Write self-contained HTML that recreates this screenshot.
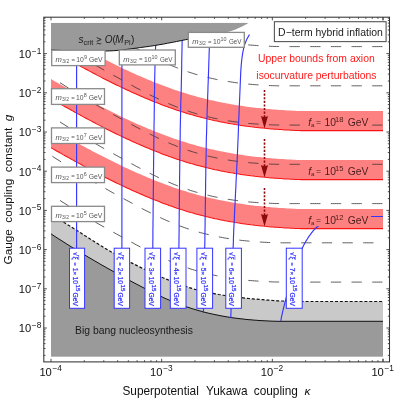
<!DOCTYPE html><html><head><meta charset="utf-8"><title>plot</title><style>html,body{margin:0;padding:0;background:#fff}svg{display:block;will-change:transform;opacity:0.999}text{font-family:"Liberation Sans",sans-serif}</style></head><body>
<svg width="395" height="399" viewBox="0 0 395 399">
<rect width="395" height="399" fill="#fff"/>
<defs><clipPath id="cp"><rect x="51.0" y="22.7" width="332.0" height="334.0"/></clipPath></defs>
<g clip-path="url(#cp)">
<path d="M51.0,214.5 L53.0,215.7 L55.0,217.0 L57.0,218.2 L59.0,219.4 L61.0,220.6 L63.0,221.9 L65.0,223.1 L67.0,224.4 L69.0,225.6 L71.0,226.8 L73.0,228.1 L75.0,229.3 L77.0,230.6 L79.0,231.8 L81.0,233.1 L83.0,234.4 L85.0,235.7 L87.0,236.9 L89.0,238.2 L91.0,239.5 L93.0,240.8 L95.0,242.1 L97.0,243.3 L99.0,244.6 L101.0,245.8 L103.0,247.0 L105.0,248.2 L107.0,249.4 L109.0,250.5 L111.0,251.7 L113.0,252.8 L115.0,253.9 L117.0,255.0 L119.0,256.2 L121.0,257.2 L123.0,258.3 L125.0,259.4 L127.0,260.5 L129.0,261.5 L131.0,262.6 L133.0,263.6 L135.0,264.6 L137.0,265.6 L139.0,266.6 L141.0,267.6 L143.0,268.6 L145.0,269.5 L147.0,270.5 L149.0,271.5 L151.0,272.4 L153.0,273.3 L155.0,274.3 L157.0,275.2 L159.0,276.0 L161.0,276.9 L163.0,277.8 L165.0,278.6 L167.0,279.4 L169.0,280.2 L171.0,281.0 L173.0,281.7 L175.0,282.5 L177.0,283.3 L179.0,284.0 L181.0,284.7 L183.0,285.4 L185.0,286.1 L187.0,286.8 L189.0,287.5 L191.0,288.1 L193.0,288.7 L195.0,289.3 L197.0,289.8 L199.0,290.4 L201.0,290.8 L203.0,291.3 L205.0,291.7 L207.0,292.2 L209.0,292.6 L211.0,293.0 L213.0,293.4 L215.0,293.8 L217.0,294.1 L219.0,294.5 L221.0,294.8 L223.0,295.2 L225.0,295.5 L227.0,295.8 L229.0,296.1 L231.0,296.3 L233.0,296.6 L235.0,296.9 L237.0,297.1 L239.0,297.4 L241.0,297.6 L243.0,297.8 L245.0,298.1 L247.0,298.3 L249.0,298.5 L251.0,298.7 L253.0,298.9 L255.0,299.1 L257.0,299.2 L259.0,299.4 L261.0,299.6 L263.0,299.7 L265.0,299.9 L267.0,300.1 L269.0,300.2 L271.0,300.4 L273.0,300.5 L275.0,300.6 L277.0,300.8 L279.0,300.9 L281.0,301.0 L283.0,301.0 L285.0,301.1 L287.0,301.2 L289.0,301.2 L291.0,301.2 L293.0,301.3 L295.0,301.3 L297.0,301.4 L299.0,301.4 L301.0,301.4 L303.0,301.5 L305.0,301.5 L307.0,301.5 L309.0,301.5 L311.0,301.5 L313.0,301.5 L315.0,301.5 L317.0,301.5 L319.0,301.5 L321.0,301.5 L323.0,301.5 L325.0,301.5 L327.0,301.5 L329.0,301.5 L331.0,301.5 L333.0,301.5 L335.0,301.5 L337.0,301.5 L339.0,301.5 L341.0,301.5 L343.0,301.5 L345.0,301.5 L347.0,301.5 L349.0,301.5 L351.0,301.5 L353.0,301.5 L355.0,301.5 L357.0,301.5 L359.0,301.5 L361.0,301.5 L363.0,301.5 L365.0,301.5 L367.0,301.5 L369.0,301.5 L371.0,301.5 L373.0,301.5 L375.0,301.5 L377.0,301.5 L379.0,301.5 L381.0,301.5 L383.0,301.5 L383.0,356.7 L51.0,356.7Z" fill="#c9c9c9"/>
<path d="M51.0,233.8 L53.0,235.2 L55.0,236.5 L57.0,237.8 L59.0,239.1 L61.0,240.3 L63.0,241.6 L65.0,242.9 L67.0,244.2 L69.0,245.4 L71.0,246.7 L73.0,247.9 L75.0,249.1 L77.0,250.4 L79.0,251.6 L81.0,252.8 L83.0,254.0 L85.0,255.2 L87.0,256.4 L89.0,257.6 L91.0,258.7 L93.0,259.9 L95.0,261.1 L97.0,262.2 L99.0,263.4 L101.0,264.6 L103.0,265.7 L105.0,266.8 L107.0,268.0 L109.0,269.1 L111.0,270.2 L113.0,271.3 L115.0,272.5 L117.0,273.6 L119.0,274.7 L121.0,275.8 L123.0,276.9 L125.0,277.9 L127.0,279.0 L129.0,280.1 L131.0,281.2 L133.0,282.3 L135.0,283.3 L137.0,284.4 L139.0,285.4 L141.0,286.5 L143.0,287.5 L145.0,288.6 L147.0,289.6 L149.0,290.6 L151.0,291.6 L153.0,292.6 L155.0,293.6 L157.0,294.6 L159.0,295.5 L161.0,296.4 L163.0,297.4 L165.0,298.3 L167.0,299.2 L169.0,300.0 L171.0,300.9 L173.0,301.7 L175.0,302.5 L177.0,303.3 L179.0,304.1 L181.0,304.9 L183.0,305.6 L185.0,306.3 L187.0,307.0 L189.0,307.6 L191.0,308.3 L193.0,308.9 L195.0,309.5 L197.0,310.1 L199.0,310.7 L201.0,311.2 L203.0,311.8 L205.0,312.3 L207.0,312.8 L209.0,313.3 L211.0,313.7 L213.0,314.2 L215.0,314.6 L217.0,315.0 L219.0,315.4 L221.0,315.8 L223.0,316.2 L225.0,316.5 L227.0,316.9 L229.0,317.2 L231.0,317.5 L233.0,317.8 L235.0,318.1 L237.0,318.3 L239.0,318.6 L241.0,318.8 L243.0,319.0 L245.0,319.3 L247.0,319.5 L249.0,319.7 L251.0,319.8 L253.0,320.0 L255.0,320.2 L257.0,320.3 L259.0,320.5 L261.0,320.6 L263.0,320.7 L265.0,320.8 L267.0,320.9 L269.0,321.0 L271.0,321.1 L273.0,321.2 L275.0,321.2 L277.0,321.3 L279.0,321.3 L281.0,321.3 L283.0,321.3 L285.0,321.3 L287.0,321.3 L289.0,321.3 L291.0,321.3 L293.0,321.3 L295.0,321.3 L297.0,321.3 L299.0,321.3 L301.0,321.3 L303.0,321.3 L305.0,321.3 L307.0,321.3 L309.0,321.3 L311.0,321.3 L313.0,321.3 L315.0,321.3 L317.0,321.3 L319.0,321.3 L321.0,321.3 L323.0,321.3 L325.0,321.3 L327.0,321.3 L329.0,321.3 L331.0,321.3 L333.0,321.3 L335.0,321.3 L337.0,321.3 L339.0,321.3 L341.0,321.3 L343.0,321.3 L345.0,321.3 L347.0,321.3 L349.0,321.3 L351.0,321.3 L353.0,321.3 L355.0,321.3 L357.0,321.3 L359.0,321.3 L361.0,321.3 L363.0,321.3 L365.0,321.3 L367.0,321.3 L369.0,321.3 L371.0,321.3 L373.0,321.3 L375.0,321.3 L377.0,321.3 L379.0,321.3 L381.0,321.3 L383.0,321.3 L383.0,356.7 L51.0,356.7Z" fill="#9a9a9a"/>
<path d="M51.0,214.5 L53.0,215.7 L55.0,217.0 L57.0,218.2 L59.0,219.4 L61.0,220.6 L63.0,221.9 L65.0,223.1 L67.0,224.4 L69.0,225.6 L71.0,226.8 L73.0,228.1 L75.0,229.3 L77.0,230.6 L79.0,231.8 L81.0,233.1 L83.0,234.4 L85.0,235.7 L87.0,236.9 L89.0,238.2 L91.0,239.5 L93.0,240.8 L95.0,242.1 L97.0,243.3 L99.0,244.6 L101.0,245.8 L103.0,247.0 L105.0,248.2 L107.0,249.4 L109.0,250.5 L111.0,251.7 L113.0,252.8 L115.0,253.9 L117.0,255.0 L119.0,256.2 L121.0,257.2 L123.0,258.3 L125.0,259.4 L127.0,260.5 L129.0,261.5 L131.0,262.6 L133.0,263.6 L135.0,264.6 L137.0,265.6 L139.0,266.6 L141.0,267.6 L143.0,268.6 L145.0,269.5 L147.0,270.5 L149.0,271.5 L151.0,272.4 L153.0,273.3 L155.0,274.3 L157.0,275.2 L159.0,276.0 L161.0,276.9 L163.0,277.8 L165.0,278.6 L167.0,279.4 L169.0,280.2 L171.0,281.0 L173.0,281.7 L175.0,282.5 L177.0,283.3 L179.0,284.0 L181.0,284.7 L183.0,285.4 L185.0,286.1 L187.0,286.8 L189.0,287.5 L191.0,288.1 L193.0,288.7 L195.0,289.3 L197.0,289.8 L199.0,290.4 L201.0,290.8 L203.0,291.3 L205.0,291.7 L207.0,292.2 L209.0,292.6 L211.0,293.0 L213.0,293.4 L215.0,293.8 L217.0,294.1 L219.0,294.5 L221.0,294.8 L223.0,295.2 L225.0,295.5 L227.0,295.8 L229.0,296.1 L231.0,296.3 L233.0,296.6 L235.0,296.9 L237.0,297.1 L239.0,297.4 L241.0,297.6 L243.0,297.8 L245.0,298.1 L247.0,298.3 L249.0,298.5 L251.0,298.7 L253.0,298.9 L255.0,299.1 L257.0,299.2 L259.0,299.4 L261.0,299.6 L263.0,299.7 L265.0,299.9 L267.0,300.1 L269.0,300.2 L271.0,300.4 L273.0,300.5 L275.0,300.6 L277.0,300.8 L279.0,300.9 L281.0,301.0 L283.0,301.0 L285.0,301.1 L287.0,301.2 L289.0,301.2 L291.0,301.2 L293.0,301.3 L295.0,301.3 L297.0,301.4 L299.0,301.4 L301.0,301.4 L303.0,301.5 L305.0,301.5 L307.0,301.5 L309.0,301.5 L311.0,301.5 L313.0,301.5 L315.0,301.5 L317.0,301.5 L319.0,301.5 L321.0,301.5 L323.0,301.5 L325.0,301.5 L327.0,301.5 L329.0,301.5 L331.0,301.5 L333.0,301.5 L335.0,301.5 L337.0,301.5 L339.0,301.5 L341.0,301.5 L343.0,301.5 L345.0,301.5 L347.0,301.5 L349.0,301.5 L351.0,301.5 L353.0,301.5 L355.0,301.5 L357.0,301.5 L359.0,301.5 L361.0,301.5 L363.0,301.5 L365.0,301.5 L367.0,301.5 L369.0,301.5 L371.0,301.5 L373.0,301.5 L375.0,301.5 L377.0,301.5 L379.0,301.5 L381.0,301.5 L383.0,301.5" fill="none" stroke="#111" stroke-width="1.2" stroke-dasharray="3 1.9"/>
<path d="M51.0,233.8 L53.0,235.2 L55.0,236.5 L57.0,237.8 L59.0,239.1 L61.0,240.3 L63.0,241.6 L65.0,242.9 L67.0,244.2 L69.0,245.4 L71.0,246.7 L73.0,247.9 L75.0,249.1 L77.0,250.4 L79.0,251.6 L81.0,252.8 L83.0,254.0 L85.0,255.2 L87.0,256.4 L89.0,257.6 L91.0,258.7 L93.0,259.9 L95.0,261.1 L97.0,262.2 L99.0,263.4 L101.0,264.6 L103.0,265.7 L105.0,266.8 L107.0,268.0 L109.0,269.1 L111.0,270.2 L113.0,271.3 L115.0,272.5 L117.0,273.6 L119.0,274.7 L121.0,275.8 L123.0,276.9 L125.0,277.9 L127.0,279.0 L129.0,280.1 L131.0,281.2 L133.0,282.3 L135.0,283.3 L137.0,284.4 L139.0,285.4 L141.0,286.5 L143.0,287.5 L145.0,288.6 L147.0,289.6 L149.0,290.6 L151.0,291.6 L153.0,292.6 L155.0,293.6 L157.0,294.6 L159.0,295.5 L161.0,296.4 L163.0,297.4 L165.0,298.3 L167.0,299.2 L169.0,300.0 L171.0,300.9 L173.0,301.7 L175.0,302.5 L177.0,303.3 L179.0,304.1 L181.0,304.9 L183.0,305.6 L185.0,306.3 L187.0,307.0 L189.0,307.6 L191.0,308.3 L193.0,308.9 L195.0,309.5 L197.0,310.1 L199.0,310.7 L201.0,311.2 L203.0,311.8 L205.0,312.3 L207.0,312.8 L209.0,313.3 L211.0,313.7 L213.0,314.2 L215.0,314.6 L217.0,315.0 L219.0,315.4 L221.0,315.8 L223.0,316.2 L225.0,316.5 L227.0,316.9 L229.0,317.2 L231.0,317.5 L233.0,317.8 L235.0,318.1 L237.0,318.3 L239.0,318.6 L241.0,318.8 L243.0,319.0 L245.0,319.3 L247.0,319.5 L249.0,319.7 L251.0,319.8 L253.0,320.0 L255.0,320.2 L257.0,320.3 L259.0,320.5 L261.0,320.6 L263.0,320.7 L265.0,320.8 L267.0,320.9 L269.0,321.0 L271.0,321.1 L273.0,321.2 L275.0,321.2 L277.0,321.3 L279.0,321.3 L281.0,321.3 L283.0,321.3 L285.0,321.3 L287.0,321.3 L289.0,321.3 L291.0,321.3 L293.0,321.3 L295.0,321.3 L297.0,321.3 L299.0,321.3 L301.0,321.3 L303.0,321.3 L305.0,321.3 L307.0,321.3 L309.0,321.3 L311.0,321.3 L313.0,321.3 L315.0,321.3 L317.0,321.3 L319.0,321.3 L321.0,321.3 L323.0,321.3 L325.0,321.3 L327.0,321.3 L329.0,321.3 L331.0,321.3 L333.0,321.3 L335.0,321.3 L337.0,321.3 L339.0,321.3 L341.0,321.3 L343.0,321.3 L345.0,321.3 L347.0,321.3 L349.0,321.3 L351.0,321.3 L353.0,321.3 L355.0,321.3 L357.0,321.3 L359.0,321.3 L361.0,321.3 L363.0,321.3 L365.0,321.3 L367.0,321.3 L369.0,321.3 L371.0,321.3 L373.0,321.3 L375.0,321.3 L377.0,321.3 L379.0,321.3 L381.0,321.3 L383.0,321.3" fill="none" stroke="#111" stroke-width="1"/>
<path d="M51.0,30.1 L53.0,31.3 L55.0,32.4 L57.0,33.6 L59.0,34.7 L61.0,35.8 L63.0,37.0 L65.0,38.1 L67.0,39.2 L69.0,40.3 L71.0,41.4 L73.0,42.5 L75.0,43.7 L77.0,44.8 L79.0,45.8 L81.0,46.9 L83.0,48.0 L85.0,49.1 L87.0,50.2 L89.0,51.3 L91.0,52.3 L93.0,53.4 L95.0,54.4 L97.0,55.5 L99.0,56.5 L101.0,57.5 L103.0,58.6 L105.0,59.6 L107.0,60.6 L109.0,61.6 L111.0,62.6 L113.0,63.6 L115.0,64.6 L117.0,65.6 L119.0,66.5 L121.0,67.5 L123.0,68.4 L125.0,69.4 L127.0,70.3 L129.0,71.2 L131.0,72.2 L133.0,73.1 L135.0,74.0 L137.0,74.9 L139.0,75.7 L141.0,76.6 L143.0,77.5 L145.0,78.3 L147.0,79.2 L149.0,80.0 L151.0,80.8 L153.0,81.7 L155.0,82.5 L157.0,83.2 L159.0,84.0 L161.0,84.8 L163.0,85.6 L165.0,86.3 L167.0,87.0 L169.0,87.8 L171.0,88.5 L173.0,89.2 L175.0,89.9 L177.0,90.6 L179.0,91.2 L181.0,91.9 L183.0,92.5 L185.0,93.1 L187.0,93.8 L189.0,94.4 L191.0,95.0 L193.0,95.5 L195.0,96.1 L197.0,96.7 L199.0,97.2 L201.0,97.7 L203.0,98.2 L205.0,98.7 L207.0,99.2 L209.0,99.7 L211.0,100.2 L213.0,100.6 L215.0,101.1 L217.0,101.5 L219.0,101.9 L221.0,102.3 L223.0,102.7 L225.0,103.1 L227.0,103.5 L229.0,103.8 L231.0,104.2 L233.0,104.5 L235.0,104.9 L237.0,105.2 L239.0,105.5 L241.0,105.8 L243.0,106.1 L245.0,106.4 L247.0,106.7 L249.0,106.9 L251.0,107.2 L253.0,107.4 L255.0,107.7 L257.0,107.9 L259.0,108.1 L261.0,108.3 L263.0,108.5 L265.0,108.7 L267.0,108.9 L269.0,109.1 L271.0,109.3 L273.0,109.4 L275.0,109.6 L277.0,109.7 L279.0,109.9 L281.0,110.0 L283.0,110.1 L285.0,110.3 L287.0,110.4 L289.0,110.5 L291.0,110.6 L293.0,110.7 L295.0,110.8 L297.0,110.9 L299.0,110.9 L301.0,111.0 L303.0,111.0 L305.0,111.0 L307.0,111.0 L309.0,111.0 L311.0,111.0 L313.0,111.0 L315.0,111.0 L317.0,111.0 L319.0,111.0 L321.0,111.0 L323.0,111.0 L325.0,111.0 L327.0,111.0 L329.0,111.0 L331.0,111.0 L333.0,111.0 L335.0,111.0 L337.0,111.0 L339.0,111.0 L341.0,111.0 L343.0,111.0 L345.0,111.0 L347.0,111.0 L349.0,111.0 L351.0,111.0 L353.0,111.0 L355.0,111.0 L357.0,111.0 L359.0,111.0 L361.0,111.0 L363.0,111.0 L365.0,111.0 L367.0,111.0 L369.0,111.0 L371.0,111.0 L373.0,111.0 L375.0,111.0 L377.0,111.0 L379.0,111.0 L381.0,111.0 L383.0,111.0 L383.0,130.6 L381.0,130.6 L379.0,130.6 L377.0,130.6 L375.0,130.6 L373.0,130.6 L371.0,130.6 L369.0,130.6 L367.0,130.6 L365.0,130.6 L363.0,130.6 L361.0,130.6 L359.0,130.6 L357.0,130.6 L355.0,130.6 L353.0,130.6 L351.0,130.6 L349.0,130.6 L347.0,130.6 L345.0,130.6 L343.0,130.6 L341.0,130.6 L339.0,130.6 L337.0,130.6 L335.0,130.6 L333.0,130.6 L331.0,130.6 L329.0,130.6 L327.0,130.6 L325.0,130.6 L323.0,130.6 L321.0,130.6 L319.0,130.6 L317.0,130.6 L315.0,130.6 L313.0,130.6 L311.0,130.6 L309.0,130.6 L307.0,130.6 L305.0,130.6 L303.0,130.6 L301.0,130.6 L299.0,130.5 L297.0,130.5 L295.0,130.4 L293.0,130.3 L291.0,130.2 L289.0,130.1 L287.0,130.0 L285.0,129.9 L283.0,129.7 L281.0,129.6 L279.0,129.5 L277.0,129.3 L275.0,129.2 L273.0,129.0 L271.0,128.9 L269.0,128.7 L267.0,128.5 L265.0,128.3 L263.0,128.1 L261.0,127.9 L259.0,127.7 L257.0,127.5 L255.0,127.3 L253.0,127.0 L251.0,126.8 L249.0,126.5 L247.0,126.3 L245.0,126.0 L243.0,125.7 L241.0,125.4 L239.0,125.1 L237.0,124.8 L235.0,124.5 L233.0,124.1 L231.0,123.8 L229.0,123.4 L227.0,123.1 L225.0,122.7 L223.0,122.3 L221.0,121.9 L219.0,121.5 L217.0,121.1 L215.0,120.7 L213.0,120.2 L211.0,119.8 L209.0,119.3 L207.0,118.8 L205.0,118.3 L203.0,117.8 L201.0,117.3 L199.0,116.8 L197.0,116.3 L195.0,115.7 L193.0,115.1 L191.0,114.6 L189.0,114.0 L187.0,113.4 L185.0,112.7 L183.0,112.1 L181.0,111.5 L179.0,110.8 L177.0,110.2 L175.0,109.5 L173.0,108.8 L171.0,108.1 L169.0,107.4 L167.0,106.6 L165.0,105.9 L163.0,105.2 L161.0,104.4 L159.0,103.6 L157.0,102.8 L155.0,102.1 L153.0,101.3 L151.0,100.4 L149.0,99.6 L147.0,98.8 L145.0,97.9 L143.0,97.1 L141.0,96.2 L139.0,95.3 L137.0,94.5 L135.0,93.6 L133.0,92.7 L131.0,91.8 L129.0,90.8 L127.0,89.9 L125.0,89.0 L123.0,88.0 L121.0,87.1 L119.0,86.1 L117.0,85.2 L115.0,84.2 L113.0,83.2 L111.0,82.2 L109.0,81.2 L107.0,80.2 L105.0,79.2 L103.0,78.2 L101.0,77.1 L99.0,76.1 L97.0,75.1 L95.0,74.0 L93.0,73.0 L91.0,71.9 L89.0,70.9 L87.0,69.8 L85.0,68.7 L83.0,67.6 L81.0,66.5 L79.0,65.4 L77.0,64.4 L75.0,63.3 L73.0,62.1 L71.0,61.0 L69.0,59.9 L67.0,58.8 L65.0,57.7 L63.0,56.6 L61.0,55.4 L59.0,54.3 L57.0,53.2 L55.0,52.0 L53.0,50.9 L51.0,49.7Z" fill="#fd8181"/>
<path d="M51.0,49.7 L53.0,50.9 L55.0,52.0 L57.0,53.2 L59.0,54.3 L61.0,55.4 L63.0,56.6 L65.0,57.7 L67.0,58.8 L69.0,59.9 L71.0,61.0 L73.0,62.1 L75.0,63.3 L77.0,64.4 L79.0,65.4 L81.0,66.5 L83.0,67.6 L85.0,68.7 L87.0,69.8 L89.0,70.9 L91.0,71.9 L93.0,73.0 L95.0,74.0 L97.0,75.1 L99.0,76.1 L101.0,77.1 L103.0,78.2 L105.0,79.2 L107.0,80.2 L109.0,81.2 L111.0,82.2 L113.0,83.2 L115.0,84.2 L117.0,85.2 L119.0,86.1 L121.0,87.1 L123.0,88.0 L125.0,89.0 L127.0,89.9 L129.0,90.8 L131.0,91.8 L133.0,92.7 L135.0,93.6 L137.0,94.5 L139.0,95.3 L141.0,96.2 L143.0,97.1 L145.0,97.9 L147.0,98.8 L149.0,99.6 L151.0,100.4 L153.0,101.3 L155.0,102.1 L157.0,102.8 L159.0,103.6 L161.0,104.4 L163.0,105.2 L165.0,105.9 L167.0,106.6 L169.0,107.4 L171.0,108.1 L173.0,108.8 L175.0,109.5 L177.0,110.2 L179.0,110.8 L181.0,111.5 L183.0,112.1 L185.0,112.7 L187.0,113.4 L189.0,114.0 L191.0,114.6 L193.0,115.1 L195.0,115.7 L197.0,116.3 L199.0,116.8 L201.0,117.3 L203.0,117.8 L205.0,118.3 L207.0,118.8 L209.0,119.3 L211.0,119.8 L213.0,120.2 L215.0,120.7 L217.0,121.1 L219.0,121.5 L221.0,121.9 L223.0,122.3 L225.0,122.7 L227.0,123.1 L229.0,123.4 L231.0,123.8 L233.0,124.1 L235.0,124.5 L237.0,124.8 L239.0,125.1 L241.0,125.4 L243.0,125.7 L245.0,126.0 L247.0,126.3 L249.0,126.5 L251.0,126.8 L253.0,127.0 L255.0,127.3 L257.0,127.5 L259.0,127.7 L261.0,127.9 L263.0,128.1 L265.0,128.3 L267.0,128.5 L269.0,128.7 L271.0,128.9 L273.0,129.0 L275.0,129.2 L277.0,129.3 L279.0,129.5 L281.0,129.6 L283.0,129.7 L285.0,129.9 L287.0,130.0 L289.0,130.1 L291.0,130.2 L293.0,130.3 L295.0,130.4 L297.0,130.5 L299.0,130.5 L301.0,130.6 L303.0,130.6 L305.0,130.6 L307.0,130.6 L309.0,130.6 L311.0,130.6 L313.0,130.6 L315.0,130.6 L317.0,130.6 L319.0,130.6 L321.0,130.6 L323.0,130.6 L325.0,130.6 L327.0,130.6 L329.0,130.6 L331.0,130.6 L333.0,130.6 L335.0,130.6 L337.0,130.6 L339.0,130.6 L341.0,130.6 L343.0,130.6 L345.0,130.6 L347.0,130.6 L349.0,130.6 L351.0,130.6 L353.0,130.6 L355.0,130.6 L357.0,130.6 L359.0,130.6 L361.0,130.6 L363.0,130.6 L365.0,130.6 L367.0,130.6 L369.0,130.6 L371.0,130.6 L373.0,130.6 L375.0,130.6 L377.0,130.6 L379.0,130.6 L381.0,130.6 L383.0,130.6" fill="none" stroke="#f81212" stroke-width="1.05"/>
<path d="M51.0,79.1 L53.0,80.3 L55.0,81.4 L57.0,82.6 L59.0,83.7 L61.0,84.8 L63.0,86.0 L65.0,87.1 L67.0,88.2 L69.0,89.3 L71.0,90.4 L73.0,91.5 L75.0,92.7 L77.0,93.8 L79.0,94.8 L81.0,95.9 L83.0,97.0 L85.0,98.1 L87.0,99.2 L89.0,100.3 L91.0,101.3 L93.0,102.4 L95.0,103.4 L97.0,104.5 L99.0,105.5 L101.0,106.5 L103.0,107.6 L105.0,108.6 L107.0,109.6 L109.0,110.6 L111.0,111.6 L113.0,112.6 L115.0,113.6 L117.0,114.6 L119.0,115.5 L121.0,116.5 L123.0,117.4 L125.0,118.4 L127.0,119.3 L129.0,120.2 L131.0,121.2 L133.0,122.1 L135.0,123.0 L137.0,123.9 L139.0,124.7 L141.0,125.6 L143.0,126.5 L145.0,127.3 L147.0,128.2 L149.0,129.0 L151.0,129.8 L153.0,130.7 L155.0,131.5 L157.0,132.2 L159.0,133.0 L161.0,133.8 L163.0,134.6 L165.0,135.3 L167.0,136.0 L169.0,136.8 L171.0,137.5 L173.0,138.2 L175.0,138.9 L177.0,139.6 L179.0,140.2 L181.0,140.9 L183.0,141.5 L185.0,142.1 L187.0,142.8 L189.0,143.4 L191.0,144.0 L193.0,144.5 L195.0,145.1 L197.0,145.7 L199.0,146.2 L201.0,146.7 L203.0,147.2 L205.0,147.7 L207.0,148.2 L209.0,148.7 L211.0,149.2 L213.0,149.6 L215.0,150.1 L217.0,150.5 L219.0,150.9 L221.0,151.3 L223.0,151.7 L225.0,152.1 L227.0,152.5 L229.0,152.8 L231.0,153.2 L233.0,153.5 L235.0,153.9 L237.0,154.2 L239.0,154.5 L241.0,154.8 L243.0,155.1 L245.0,155.4 L247.0,155.7 L249.0,155.9 L251.0,156.2 L253.0,156.4 L255.0,156.7 L257.0,156.9 L259.0,157.1 L261.0,157.3 L263.0,157.5 L265.0,157.7 L267.0,157.9 L269.0,158.1 L271.0,158.3 L273.0,158.4 L275.0,158.6 L277.0,158.7 L279.0,158.9 L281.0,159.0 L283.0,159.1 L285.0,159.3 L287.0,159.4 L289.0,159.5 L291.0,159.6 L293.0,159.7 L295.0,159.8 L297.0,159.9 L299.0,159.9 L301.0,160.0 L303.0,160.0 L305.0,160.0 L307.0,160.0 L309.0,160.0 L311.0,160.0 L313.0,160.0 L315.0,160.0 L317.0,160.0 L319.0,160.0 L321.0,160.0 L323.0,160.0 L325.0,160.0 L327.0,160.0 L329.0,160.0 L331.0,160.0 L333.0,160.0 L335.0,160.0 L337.0,160.0 L339.0,160.0 L341.0,160.0 L343.0,160.0 L345.0,160.0 L347.0,160.0 L349.0,160.0 L351.0,160.0 L353.0,160.0 L355.0,160.0 L357.0,160.0 L359.0,160.0 L361.0,160.0 L363.0,160.0 L365.0,160.0 L367.0,160.0 L369.0,160.0 L371.0,160.0 L373.0,160.0 L375.0,160.0 L377.0,160.0 L379.0,160.0 L381.0,160.0 L383.0,160.0 L383.0,179.6 L381.0,179.6 L379.0,179.6 L377.0,179.6 L375.0,179.6 L373.0,179.6 L371.0,179.6 L369.0,179.6 L367.0,179.6 L365.0,179.6 L363.0,179.6 L361.0,179.6 L359.0,179.6 L357.0,179.6 L355.0,179.6 L353.0,179.6 L351.0,179.6 L349.0,179.6 L347.0,179.6 L345.0,179.6 L343.0,179.6 L341.0,179.6 L339.0,179.6 L337.0,179.6 L335.0,179.6 L333.0,179.6 L331.0,179.6 L329.0,179.6 L327.0,179.6 L325.0,179.6 L323.0,179.6 L321.0,179.6 L319.0,179.6 L317.0,179.6 L315.0,179.6 L313.0,179.6 L311.0,179.6 L309.0,179.6 L307.0,179.6 L305.0,179.6 L303.0,179.6 L301.0,179.6 L299.0,179.5 L297.0,179.5 L295.0,179.4 L293.0,179.3 L291.0,179.2 L289.0,179.1 L287.0,179.0 L285.0,178.9 L283.0,178.7 L281.0,178.6 L279.0,178.5 L277.0,178.3 L275.0,178.2 L273.0,178.0 L271.0,177.9 L269.0,177.7 L267.0,177.5 L265.0,177.3 L263.0,177.1 L261.0,176.9 L259.0,176.7 L257.0,176.5 L255.0,176.3 L253.0,176.0 L251.0,175.8 L249.0,175.5 L247.0,175.3 L245.0,175.0 L243.0,174.7 L241.0,174.4 L239.0,174.1 L237.0,173.8 L235.0,173.5 L233.0,173.1 L231.0,172.8 L229.0,172.4 L227.0,172.1 L225.0,171.7 L223.0,171.3 L221.0,170.9 L219.0,170.5 L217.0,170.1 L215.0,169.7 L213.0,169.2 L211.0,168.8 L209.0,168.3 L207.0,167.8 L205.0,167.3 L203.0,166.8 L201.0,166.3 L199.0,165.8 L197.0,165.3 L195.0,164.7 L193.0,164.1 L191.0,163.6 L189.0,163.0 L187.0,162.4 L185.0,161.7 L183.0,161.1 L181.0,160.5 L179.0,159.8 L177.0,159.2 L175.0,158.5 L173.0,157.8 L171.0,157.1 L169.0,156.4 L167.0,155.6 L165.0,154.9 L163.0,154.2 L161.0,153.4 L159.0,152.6 L157.0,151.8 L155.0,151.1 L153.0,150.3 L151.0,149.4 L149.0,148.6 L147.0,147.8 L145.0,146.9 L143.0,146.1 L141.0,145.2 L139.0,144.3 L137.0,143.5 L135.0,142.6 L133.0,141.7 L131.0,140.8 L129.0,139.8 L127.0,138.9 L125.0,138.0 L123.0,137.0 L121.0,136.1 L119.0,135.1 L117.0,134.2 L115.0,133.2 L113.0,132.2 L111.0,131.2 L109.0,130.2 L107.0,129.2 L105.0,128.2 L103.0,127.2 L101.0,126.1 L99.0,125.1 L97.0,124.1 L95.0,123.0 L93.0,122.0 L91.0,120.9 L89.0,119.9 L87.0,118.8 L85.0,117.7 L83.0,116.6 L81.0,115.5 L79.0,114.4 L77.0,113.4 L75.0,112.3 L73.0,111.1 L71.0,110.0 L69.0,108.9 L67.0,107.8 L65.0,106.7 L63.0,105.6 L61.0,104.4 L59.0,103.3 L57.0,102.2 L55.0,101.0 L53.0,99.9 L51.0,98.7Z" fill="#fd8181"/>
<path d="M51.0,98.7 L53.0,99.9 L55.0,101.0 L57.0,102.2 L59.0,103.3 L61.0,104.4 L63.0,105.6 L65.0,106.7 L67.0,107.8 L69.0,108.9 L71.0,110.0 L73.0,111.1 L75.0,112.3 L77.0,113.4 L79.0,114.4 L81.0,115.5 L83.0,116.6 L85.0,117.7 L87.0,118.8 L89.0,119.9 L91.0,120.9 L93.0,122.0 L95.0,123.0 L97.0,124.1 L99.0,125.1 L101.0,126.1 L103.0,127.2 L105.0,128.2 L107.0,129.2 L109.0,130.2 L111.0,131.2 L113.0,132.2 L115.0,133.2 L117.0,134.2 L119.0,135.1 L121.0,136.1 L123.0,137.0 L125.0,138.0 L127.0,138.9 L129.0,139.8 L131.0,140.8 L133.0,141.7 L135.0,142.6 L137.0,143.5 L139.0,144.3 L141.0,145.2 L143.0,146.1 L145.0,146.9 L147.0,147.8 L149.0,148.6 L151.0,149.4 L153.0,150.3 L155.0,151.1 L157.0,151.8 L159.0,152.6 L161.0,153.4 L163.0,154.2 L165.0,154.9 L167.0,155.6 L169.0,156.4 L171.0,157.1 L173.0,157.8 L175.0,158.5 L177.0,159.2 L179.0,159.8 L181.0,160.5 L183.0,161.1 L185.0,161.7 L187.0,162.4 L189.0,163.0 L191.0,163.6 L193.0,164.1 L195.0,164.7 L197.0,165.3 L199.0,165.8 L201.0,166.3 L203.0,166.8 L205.0,167.3 L207.0,167.8 L209.0,168.3 L211.0,168.8 L213.0,169.2 L215.0,169.7 L217.0,170.1 L219.0,170.5 L221.0,170.9 L223.0,171.3 L225.0,171.7 L227.0,172.1 L229.0,172.4 L231.0,172.8 L233.0,173.1 L235.0,173.5 L237.0,173.8 L239.0,174.1 L241.0,174.4 L243.0,174.7 L245.0,175.0 L247.0,175.3 L249.0,175.5 L251.0,175.8 L253.0,176.0 L255.0,176.3 L257.0,176.5 L259.0,176.7 L261.0,176.9 L263.0,177.1 L265.0,177.3 L267.0,177.5 L269.0,177.7 L271.0,177.9 L273.0,178.0 L275.0,178.2 L277.0,178.3 L279.0,178.5 L281.0,178.6 L283.0,178.7 L285.0,178.9 L287.0,179.0 L289.0,179.1 L291.0,179.2 L293.0,179.3 L295.0,179.4 L297.0,179.5 L299.0,179.5 L301.0,179.6 L303.0,179.6 L305.0,179.6 L307.0,179.6 L309.0,179.6 L311.0,179.6 L313.0,179.6 L315.0,179.6 L317.0,179.6 L319.0,179.6 L321.0,179.6 L323.0,179.6 L325.0,179.6 L327.0,179.6 L329.0,179.6 L331.0,179.6 L333.0,179.6 L335.0,179.6 L337.0,179.6 L339.0,179.6 L341.0,179.6 L343.0,179.6 L345.0,179.6 L347.0,179.6 L349.0,179.6 L351.0,179.6 L353.0,179.6 L355.0,179.6 L357.0,179.6 L359.0,179.6 L361.0,179.6 L363.0,179.6 L365.0,179.6 L367.0,179.6 L369.0,179.6 L371.0,179.6 L373.0,179.6 L375.0,179.6 L377.0,179.6 L379.0,179.6 L381.0,179.6 L383.0,179.6" fill="none" stroke="#f81212" stroke-width="1.05"/>
<path d="M51.0,128.1 L53.0,129.3 L55.0,130.4 L57.0,131.6 L59.0,132.7 L61.0,133.8 L63.0,135.0 L65.0,136.1 L67.0,137.2 L69.0,138.3 L71.0,139.4 L73.0,140.5 L75.0,141.7 L77.0,142.8 L79.0,143.8 L81.0,144.9 L83.0,146.0 L85.0,147.1 L87.0,148.2 L89.0,149.3 L91.0,150.3 L93.0,151.4 L95.0,152.4 L97.0,153.5 L99.0,154.5 L101.0,155.5 L103.0,156.6 L105.0,157.6 L107.0,158.6 L109.0,159.6 L111.0,160.6 L113.0,161.6 L115.0,162.6 L117.0,163.6 L119.0,164.5 L121.0,165.5 L123.0,166.4 L125.0,167.4 L127.0,168.3 L129.0,169.2 L131.0,170.2 L133.0,171.1 L135.0,172.0 L137.0,172.9 L139.0,173.7 L141.0,174.6 L143.0,175.5 L145.0,176.3 L147.0,177.2 L149.0,178.0 L151.0,178.8 L153.0,179.7 L155.0,180.5 L157.0,181.2 L159.0,182.0 L161.0,182.8 L163.0,183.6 L165.0,184.3 L167.0,185.0 L169.0,185.8 L171.0,186.5 L173.0,187.2 L175.0,187.9 L177.0,188.6 L179.0,189.2 L181.0,189.9 L183.0,190.5 L185.0,191.1 L187.0,191.8 L189.0,192.4 L191.0,193.0 L193.0,193.5 L195.0,194.1 L197.0,194.7 L199.0,195.2 L201.0,195.7 L203.0,196.2 L205.0,196.7 L207.0,197.2 L209.0,197.7 L211.0,198.2 L213.0,198.6 L215.0,199.1 L217.0,199.5 L219.0,199.9 L221.0,200.3 L223.0,200.7 L225.0,201.1 L227.0,201.5 L229.0,201.8 L231.0,202.2 L233.0,202.5 L235.0,202.9 L237.0,203.2 L239.0,203.5 L241.0,203.8 L243.0,204.1 L245.0,204.4 L247.0,204.7 L249.0,204.9 L251.0,205.2 L253.0,205.4 L255.0,205.7 L257.0,205.9 L259.0,206.1 L261.0,206.3 L263.0,206.5 L265.0,206.7 L267.0,206.9 L269.0,207.1 L271.0,207.3 L273.0,207.4 L275.0,207.6 L277.0,207.7 L279.0,207.9 L281.0,208.0 L283.0,208.1 L285.0,208.3 L287.0,208.4 L289.0,208.5 L291.0,208.6 L293.0,208.7 L295.0,208.8 L297.0,208.9 L299.0,208.9 L301.0,209.0 L303.0,209.0 L305.0,209.0 L307.0,209.0 L309.0,209.0 L311.0,209.0 L313.0,209.0 L315.0,209.0 L317.0,209.0 L319.0,209.0 L321.0,209.0 L323.0,209.0 L325.0,209.0 L327.0,209.0 L329.0,209.0 L331.0,209.0 L333.0,209.0 L335.0,209.0 L337.0,209.0 L339.0,209.0 L341.0,209.0 L343.0,209.0 L345.0,209.0 L347.0,209.0 L349.0,209.0 L351.0,209.0 L353.0,209.0 L355.0,209.0 L357.0,209.0 L359.0,209.0 L361.0,209.0 L363.0,209.0 L365.0,209.0 L367.0,209.0 L369.0,209.0 L371.0,209.0 L373.0,209.0 L375.0,209.0 L377.0,209.0 L379.0,209.0 L381.0,209.0 L383.0,209.0 L383.0,228.6 L381.0,228.6 L379.0,228.6 L377.0,228.6 L375.0,228.6 L373.0,228.6 L371.0,228.6 L369.0,228.6 L367.0,228.6 L365.0,228.6 L363.0,228.6 L361.0,228.6 L359.0,228.6 L357.0,228.6 L355.0,228.6 L353.0,228.6 L351.0,228.6 L349.0,228.6 L347.0,228.6 L345.0,228.6 L343.0,228.6 L341.0,228.6 L339.0,228.6 L337.0,228.6 L335.0,228.6 L333.0,228.6 L331.0,228.6 L329.0,228.6 L327.0,228.6 L325.0,228.6 L323.0,228.6 L321.0,228.6 L319.0,228.6 L317.0,228.6 L315.0,228.6 L313.0,228.6 L311.0,228.6 L309.0,228.6 L307.0,228.6 L305.0,228.6 L303.0,228.6 L301.0,228.6 L299.0,228.5 L297.0,228.5 L295.0,228.4 L293.0,228.3 L291.0,228.2 L289.0,228.1 L287.0,228.0 L285.0,227.9 L283.0,227.7 L281.0,227.6 L279.0,227.5 L277.0,227.3 L275.0,227.2 L273.0,227.0 L271.0,226.9 L269.0,226.7 L267.0,226.5 L265.0,226.3 L263.0,226.1 L261.0,225.9 L259.0,225.7 L257.0,225.5 L255.0,225.3 L253.0,225.0 L251.0,224.8 L249.0,224.5 L247.0,224.3 L245.0,224.0 L243.0,223.7 L241.0,223.4 L239.0,223.1 L237.0,222.8 L235.0,222.5 L233.0,222.1 L231.0,221.8 L229.0,221.4 L227.0,221.1 L225.0,220.7 L223.0,220.3 L221.0,219.9 L219.0,219.5 L217.0,219.1 L215.0,218.7 L213.0,218.2 L211.0,217.8 L209.0,217.3 L207.0,216.8 L205.0,216.3 L203.0,215.8 L201.0,215.3 L199.0,214.8 L197.0,214.3 L195.0,213.7 L193.0,213.1 L191.0,212.6 L189.0,212.0 L187.0,211.4 L185.0,210.7 L183.0,210.1 L181.0,209.5 L179.0,208.8 L177.0,208.2 L175.0,207.5 L173.0,206.8 L171.0,206.1 L169.0,205.4 L167.0,204.6 L165.0,203.9 L163.0,203.2 L161.0,202.4 L159.0,201.6 L157.0,200.8 L155.0,200.1 L153.0,199.3 L151.0,198.4 L149.0,197.6 L147.0,196.8 L145.0,195.9 L143.0,195.1 L141.0,194.2 L139.0,193.3 L137.0,192.5 L135.0,191.6 L133.0,190.7 L131.0,189.8 L129.0,188.8 L127.0,187.9 L125.0,187.0 L123.0,186.0 L121.0,185.1 L119.0,184.1 L117.0,183.2 L115.0,182.2 L113.0,181.2 L111.0,180.2 L109.0,179.2 L107.0,178.2 L105.0,177.2 L103.0,176.2 L101.0,175.1 L99.0,174.1 L97.0,173.1 L95.0,172.0 L93.0,171.0 L91.0,169.9 L89.0,168.9 L87.0,167.8 L85.0,166.7 L83.0,165.6 L81.0,164.5 L79.0,163.4 L77.0,162.4 L75.0,161.3 L73.0,160.1 L71.0,159.0 L69.0,157.9 L67.0,156.8 L65.0,155.7 L63.0,154.6 L61.0,153.4 L59.0,152.3 L57.0,151.2 L55.0,150.0 L53.0,148.9 L51.0,147.7Z" fill="#fd8181"/>
<path d="M51.0,147.7 L53.0,148.9 L55.0,150.0 L57.0,151.2 L59.0,152.3 L61.0,153.4 L63.0,154.6 L65.0,155.7 L67.0,156.8 L69.0,157.9 L71.0,159.0 L73.0,160.1 L75.0,161.3 L77.0,162.4 L79.0,163.4 L81.0,164.5 L83.0,165.6 L85.0,166.7 L87.0,167.8 L89.0,168.9 L91.0,169.9 L93.0,171.0 L95.0,172.0 L97.0,173.1 L99.0,174.1 L101.0,175.1 L103.0,176.2 L105.0,177.2 L107.0,178.2 L109.0,179.2 L111.0,180.2 L113.0,181.2 L115.0,182.2 L117.0,183.2 L119.0,184.1 L121.0,185.1 L123.0,186.0 L125.0,187.0 L127.0,187.9 L129.0,188.8 L131.0,189.8 L133.0,190.7 L135.0,191.6 L137.0,192.5 L139.0,193.3 L141.0,194.2 L143.0,195.1 L145.0,195.9 L147.0,196.8 L149.0,197.6 L151.0,198.4 L153.0,199.3 L155.0,200.1 L157.0,200.8 L159.0,201.6 L161.0,202.4 L163.0,203.2 L165.0,203.9 L167.0,204.6 L169.0,205.4 L171.0,206.1 L173.0,206.8 L175.0,207.5 L177.0,208.2 L179.0,208.8 L181.0,209.5 L183.0,210.1 L185.0,210.7 L187.0,211.4 L189.0,212.0 L191.0,212.6 L193.0,213.1 L195.0,213.7 L197.0,214.3 L199.0,214.8 L201.0,215.3 L203.0,215.8 L205.0,216.3 L207.0,216.8 L209.0,217.3 L211.0,217.8 L213.0,218.2 L215.0,218.7 L217.0,219.1 L219.0,219.5 L221.0,219.9 L223.0,220.3 L225.0,220.7 L227.0,221.1 L229.0,221.4 L231.0,221.8 L233.0,222.1 L235.0,222.5 L237.0,222.8 L239.0,223.1 L241.0,223.4 L243.0,223.7 L245.0,224.0 L247.0,224.3 L249.0,224.5 L251.0,224.8 L253.0,225.0 L255.0,225.3 L257.0,225.5 L259.0,225.7 L261.0,225.9 L263.0,226.1 L265.0,226.3 L267.0,226.5 L269.0,226.7 L271.0,226.9 L273.0,227.0 L275.0,227.2 L277.0,227.3 L279.0,227.5 L281.0,227.6 L283.0,227.7 L285.0,227.9 L287.0,228.0 L289.0,228.1 L291.0,228.2 L293.0,228.3 L295.0,228.4 L297.0,228.5 L299.0,228.5 L301.0,228.6 L303.0,228.6 L305.0,228.6 L307.0,228.6 L309.0,228.6 L311.0,228.6 L313.0,228.6 L315.0,228.6 L317.0,228.6 L319.0,228.6 L321.0,228.6 L323.0,228.6 L325.0,228.6 L327.0,228.6 L329.0,228.6 L331.0,228.6 L333.0,228.6 L335.0,228.6 L337.0,228.6 L339.0,228.6 L341.0,228.6 L343.0,228.6 L345.0,228.6 L347.0,228.6 L349.0,228.6 L351.0,228.6 L353.0,228.6 L355.0,228.6 L357.0,228.6 L359.0,228.6 L361.0,228.6 L363.0,228.6 L365.0,228.6 L367.0,228.6 L369.0,228.6 L371.0,228.6 L373.0,228.6 L375.0,228.6 L377.0,228.6 L379.0,228.6 L381.0,228.6 L383.0,228.6" fill="none" stroke="#f81212" stroke-width="1.05"/>
<path d="M382.4,282.1 L380.4,282.1 L378.4,282.1 L376.4,282.1 L374.4,282.1 L372.4,282.1 L370.4,282.1 L368.4,282.1 L366.4,282.1 L364.4,282.1 L362.4,282.1 L360.4,282.1 L358.4,282.1 L356.4,282.1 L354.5,282.1 L352.5,282.1 L350.5,282.1 L348.5,282.1 L346.5,282.1 L344.5,282.1 L342.5,282.1 L340.5,282.1 L338.5,282.1 L336.5,282.1 L334.5,282.1 L332.5,282.1 L330.5,282.1 L328.5,282.1 L326.5,282.1 L324.5,282.1 L322.5,282.1 L320.5,282.1 L318.5,282.1 L316.5,282.1 L314.5,282.1 L312.5,282.1 L310.5,282.1 L308.5,282.1 L306.5,282.1 L304.5,282.1 L302.5,282.1 L300.5,282.1 L298.6,282.1 L296.6,282.1 L294.6,282.1 L292.6,282.1 L290.6,282.1 L288.6,282.1 L286.6,282.1 L284.6,282.1 L282.6,282.1 L280.6,282.1 L278.6,282.0 L276.6,282.0 L274.6,282.0 L272.6,281.9 L270.6,281.8 L268.6,281.7 L266.6,281.6 L264.6,281.5 L262.6,281.4 L260.6,281.3 L258.6,281.2 L256.6,281.0 L254.6,280.9 L252.6,280.7 L250.6,280.6 L248.6,280.4 L246.6,280.2 L244.6,280.0 L242.7,279.8 L240.7,279.5 L238.7,279.3 L236.7,279.0 L234.7,278.8 L232.7,278.5 L230.7,278.2 L228.7,277.9 L226.7,277.6 L224.7,277.2 L222.7,276.9 L220.7,276.5 L218.7,276.1 L216.7,275.7 L214.7,275.3 L212.7,274.9 L210.7,274.4 L208.7,273.9 L206.7,273.5 L204.7,273.0 L202.7,272.5 L200.7,271.9 L198.7,271.4 L196.7,270.8 L194.7,270.2 L192.7,269.6 L190.7,269.0 L188.8,268.3 L186.8,267.6 L184.8,267.0 L182.8,266.2 L180.8,265.5 L178.8,264.8 L176.8,264.0 L174.8,263.2 L172.8,262.4 L170.8,261.5 L168.8,260.7 L166.8,259.8 L164.8,258.9 L162.8,258.0 L160.8,257.1 L158.8,256.2 L156.8,255.2 L154.8,254.2 L152.8,253.3 L150.8,252.3 L148.8,251.3 L146.8,250.3 L144.8,249.2 L142.8,248.2 L140.8,247.2 L138.8,246.1 L136.8,245.1 L134.8,244.0 L132.9,242.9 L130.9,241.9 L128.9,240.8 L126.9,239.7 L124.9,238.6 L122.9,237.5 L120.9,236.4 L118.9,235.3 L116.9,234.2 L114.9,233.1 L112.9,232.0 L110.9,230.9 L108.9,229.8 L106.9,228.7 L104.9,227.5 L102.9,226.4 L100.9,225.3 L98.9,224.1 L96.9,223.0 L94.9,221.8 L92.9,220.6 L90.9,219.5 L88.9,218.3 L86.9,217.1 L84.9,215.9 L82.9,214.7 L80.9,213.5 L78.9,212.3 L77.0,211.1 L75.0,209.8 L73.0,208.6 L71.0,207.4 L69.0,206.1 L67.0,204.9 L65.0,203.6 L63.0,202.4 L61.0,201.1 L59.0,199.8 L57.0,198.5 L55.0,197.2 L53.0,195.9" fill="none" stroke="#333" stroke-width="0.8" stroke-dasharray="10.3 10.37" stroke-dashoffset="0.1"/>
<path d="M382.4,242.8 L380.4,242.8 L378.4,242.8 L376.4,242.8 L374.4,242.8 L372.4,242.8 L370.4,242.8 L368.4,242.8 L366.4,242.8 L364.4,242.8 L362.4,242.8 L360.4,242.8 L358.4,242.8 L356.4,242.8 L354.5,242.8 L352.5,242.8 L350.5,242.8 L348.5,242.8 L346.5,242.8 L344.5,242.8 L342.5,242.8 L340.5,242.8 L338.5,242.8 L336.5,242.8 L334.5,242.8 L332.5,242.8 L330.5,242.8 L328.5,242.8 L326.5,242.8 L324.5,242.8 L322.5,242.8 L320.5,242.8 L318.5,242.8 L316.5,242.8 L314.5,242.8 L312.5,242.8 L310.5,242.8 L308.5,242.8 L306.5,242.8 L304.5,242.8 L302.5,242.8 L300.5,242.8 L298.6,242.8 L296.6,242.8 L294.6,242.8 L292.6,242.8 L290.6,242.8 L288.6,242.8 L286.6,242.8 L284.6,242.8 L282.6,242.8 L280.6,242.8 L278.6,242.8 L276.6,242.8 L274.6,242.7 L272.6,242.7 L270.6,242.6 L268.6,242.5 L266.6,242.4 L264.6,242.3 L262.6,242.2 L260.6,242.1 L258.6,241.9 L256.6,241.8 L254.6,241.6 L252.6,241.5 L250.6,241.3 L248.6,241.1 L246.6,240.9 L244.6,240.7 L242.7,240.5 L240.7,240.3 L238.7,240.0 L236.7,239.8 L234.7,239.5 L232.7,239.2 L230.7,238.9 L228.7,238.6 L226.7,238.3 L224.7,238.0 L222.7,237.6 L220.7,237.2 L218.7,236.9 L216.7,236.5 L214.7,236.0 L212.7,235.6 L210.7,235.2 L208.7,234.7 L206.7,234.2 L204.7,233.7 L202.7,233.2 L200.7,232.7 L198.7,232.1 L196.7,231.5 L194.7,231.0 L192.7,230.3 L190.7,229.7 L188.8,229.1 L186.8,228.4 L184.8,227.7 L182.8,227.0 L180.8,226.3 L178.8,225.5 L176.8,224.7 L174.8,223.9 L172.8,223.1 L170.8,222.3 L168.8,221.4 L166.8,220.6 L164.8,219.7 L162.8,218.8 L160.8,217.8 L158.8,216.9 L156.8,216.0 L154.8,215.0 L152.8,214.0 L150.8,213.0 L148.8,212.0 L146.8,211.0 L144.8,210.0 L142.8,209.0 L140.8,207.9 L138.8,206.9 L136.8,205.8 L134.8,204.8 L132.9,203.7 L130.9,202.6 L128.9,201.5 L126.9,200.5 L124.9,199.4 L122.9,198.3 L120.9,197.2 L118.9,196.1 L116.9,195.0 L114.9,193.9 L112.9,192.8 L110.9,191.7 L108.9,190.5 L106.9,189.4 L104.9,188.3 L102.9,187.1 L100.9,186.0 L98.9,184.9 L96.9,183.7 L94.9,182.5 L92.9,181.4 L90.9,180.2 L88.9,179.0 L86.9,177.8 L84.9,176.7 L82.9,175.5 L80.9,174.2 L78.9,173.0 L77.0,171.8 L75.0,170.6 L73.0,169.4 L71.0,168.1 L69.0,166.9 L67.0,165.6 L65.0,164.4 L63.0,163.1 L61.0,161.8 L59.0,160.5 L57.0,159.3 L55.0,158.0 L53.0,156.7 L51.0,155.3" fill="none" stroke="#333" stroke-width="0.8" stroke-dasharray="10.3 10.37" stroke-dashoffset="11.77"/>
<path d="M382.4,203.6 L380.4,203.6 L378.4,203.6 L376.4,203.6 L374.4,203.6 L372.4,203.6 L370.4,203.6 L368.4,203.6 L366.4,203.6 L364.4,203.6 L362.4,203.6 L360.4,203.6 L358.4,203.6 L356.4,203.6 L354.5,203.6 L352.5,203.6 L350.5,203.6 L348.5,203.6 L346.5,203.6 L344.5,203.6 L342.5,203.6 L340.5,203.6 L338.5,203.6 L336.5,203.6 L334.5,203.6 L332.5,203.6 L330.5,203.6 L328.5,203.6 L326.5,203.6 L324.5,203.6 L322.5,203.6 L320.5,203.6 L318.5,203.6 L316.5,203.6 L314.5,203.6 L312.5,203.6 L310.5,203.6 L308.5,203.6 L306.5,203.6 L304.5,203.6 L302.5,203.6 L300.5,203.6 L298.6,203.6 L296.6,203.6 L294.6,203.6 L292.6,203.6 L290.6,203.6 L288.6,203.6 L286.6,203.6 L284.6,203.6 L282.6,203.6 L280.6,203.6 L278.6,203.5 L276.6,203.5 L274.6,203.5 L272.6,203.4 L270.6,203.3 L268.6,203.2 L266.6,203.1 L264.6,203.0 L262.6,202.9 L260.6,202.8 L258.6,202.7 L256.6,202.5 L254.6,202.4 L252.6,202.2 L250.6,202.1 L248.6,201.9 L246.6,201.7 L244.6,201.5 L242.7,201.3 L240.7,201.0 L238.7,200.8 L236.7,200.5 L234.7,200.3 L232.7,200.0 L230.7,199.7 L228.7,199.4 L226.7,199.1 L224.7,198.7 L222.7,198.4 L220.7,198.0 L218.7,197.6 L216.7,197.2 L214.7,196.8 L212.7,196.4 L210.7,195.9 L208.7,195.4 L206.7,195.0 L204.7,194.5 L202.7,194.0 L200.7,193.4 L198.7,192.9 L196.7,192.3 L194.7,191.7 L192.7,191.1 L190.7,190.5 L188.8,189.8 L186.8,189.1 L184.8,188.5 L182.8,187.7 L180.8,187.0 L178.8,186.3 L176.8,185.5 L174.8,184.7 L172.8,183.9 L170.8,183.0 L168.8,182.2 L166.8,181.3 L164.8,180.4 L162.8,179.5 L160.8,178.6 L158.8,177.7 L156.8,176.7 L154.8,175.7 L152.8,174.8 L150.8,173.8 L148.8,172.8 L146.8,171.8 L144.8,170.7 L142.8,169.7 L140.8,168.7 L138.8,167.6 L136.8,166.6 L134.8,165.5 L132.9,164.4 L130.9,163.4 L128.9,162.3 L126.9,161.2 L124.9,160.1 L122.9,159.0 L120.9,157.9 L118.9,156.8 L116.9,155.7 L114.9,154.6 L112.9,153.5 L110.9,152.4 L108.9,151.3 L106.9,150.2 L104.9,149.0 L102.9,147.9 L100.9,146.8 L98.9,145.6 L96.9,144.5 L94.9,143.3 L92.9,142.1 L90.9,141.0 L88.9,139.8 L86.9,138.6 L84.9,137.4 L82.9,136.2 L80.9,135.0 L78.9,133.8 L77.0,132.6 L75.0,131.3 L73.0,130.1 L71.0,128.9 L69.0,127.6 L67.0,126.4 L65.0,125.1 L63.0,123.9 L61.0,122.6 L59.0,121.3 L57.0,120.0 L55.0,118.7 L53.0,117.4" fill="none" stroke="#333" stroke-width="0.8" stroke-dasharray="10.3 10.37" stroke-dashoffset="0.1"/>
<path d="M382.4,164.3 L380.4,164.3 L378.4,164.3 L376.4,164.3 L374.4,164.3 L372.4,164.3 L370.4,164.3 L368.4,164.3 L366.4,164.3 L364.4,164.3 L362.4,164.3 L360.4,164.3 L358.4,164.3 L356.4,164.3 L354.5,164.3 L352.5,164.3 L350.5,164.3 L348.5,164.3 L346.5,164.3 L344.5,164.3 L342.5,164.3 L340.5,164.3 L338.5,164.3 L336.5,164.3 L334.5,164.3 L332.5,164.3 L330.5,164.3 L328.5,164.3 L326.5,164.3 L324.5,164.3 L322.5,164.3 L320.5,164.3 L318.5,164.3 L316.5,164.3 L314.5,164.3 L312.5,164.3 L310.5,164.3 L308.5,164.3 L306.5,164.3 L304.5,164.3 L302.5,164.3 L300.5,164.3 L298.6,164.3 L296.6,164.3 L294.6,164.3 L292.6,164.3 L290.6,164.3 L288.6,164.3 L286.6,164.3 L284.6,164.3 L282.6,164.3 L280.6,164.3 L278.6,164.3 L276.6,164.3 L274.6,164.2 L272.6,164.2 L270.6,164.1 L268.6,164.0 L266.6,163.9 L264.6,163.8 L262.6,163.7 L260.6,163.6 L258.6,163.4 L256.6,163.3 L254.6,163.1 L252.6,163.0 L250.6,162.8 L248.6,162.6 L246.6,162.4 L244.6,162.2 L242.7,162.0 L240.7,161.8 L238.7,161.5 L236.7,161.3 L234.7,161.0 L232.7,160.7 L230.7,160.4 L228.7,160.1 L226.7,159.8 L224.7,159.5 L222.7,159.1 L220.7,158.7 L218.7,158.4 L216.7,158.0 L214.7,157.5 L212.7,157.1 L210.7,156.7 L208.7,156.2 L206.7,155.7 L204.7,155.2 L202.7,154.7 L200.7,154.2 L198.7,153.6 L196.7,153.0 L194.7,152.5 L192.7,151.8 L190.7,151.2 L188.8,150.6 L186.8,149.9 L184.8,149.2 L182.8,148.5 L180.8,147.8 L178.8,147.0 L176.8,146.2 L174.8,145.4 L172.8,144.6 L170.8,143.8 L168.8,142.9 L166.8,142.1 L164.8,141.2 L162.8,140.3 L160.8,139.3 L158.8,138.4 L156.8,137.5 L154.8,136.5 L152.8,135.5 L150.8,134.5 L148.8,133.5 L146.8,132.5 L144.8,131.5 L142.8,130.5 L140.8,129.4 L138.8,128.4 L136.8,127.3 L134.8,126.3 L132.9,125.2 L130.9,124.1 L128.9,123.0 L126.9,122.0 L124.9,120.9 L122.9,119.8 L120.9,118.7 L118.9,117.6 L116.9,116.5 L114.9,115.4 L112.9,114.3 L110.9,113.2 L108.9,112.0 L106.9,110.9 L104.9,109.8 L102.9,108.6 L100.9,107.5 L98.9,106.4 L96.9,105.2 L94.9,104.0 L92.9,102.9 L90.9,101.7 L88.9,100.5 L86.9,99.3 L84.9,98.2 L82.9,97.0 L80.9,95.7 L78.9,94.5 L77.0,93.3 L75.0,92.1 L73.0,90.9 L71.0,89.6 L69.0,88.4 L67.0,87.1 L65.0,85.9 L63.0,84.6 L61.0,83.3 L59.0,82.0 L57.0,80.8 L55.0,79.5 L53.0,78.2" fill="none" stroke="#333" stroke-width="0.8" stroke-dasharray="10.3 10.37" stroke-dashoffset="0.1"/>
<path d="M382.4,125.1 L380.4,125.1 L378.4,125.1 L376.4,125.1 L374.4,125.1 L372.4,125.1 L370.4,125.1 L368.4,125.1 L366.4,125.1 L364.4,125.1 L362.4,125.1 L360.4,125.1 L358.4,125.1 L356.4,125.1 L354.5,125.1 L352.5,125.1 L350.5,125.1 L348.5,125.1 L346.5,125.1 L344.5,125.1 L342.5,125.1 L340.5,125.1 L338.5,125.1 L336.5,125.1 L334.5,125.1 L332.5,125.1 L330.5,125.1 L328.5,125.1 L326.5,125.1 L324.5,125.1 L322.5,125.1 L320.5,125.1 L318.5,125.1 L316.5,125.1 L314.5,125.1 L312.5,125.1 L310.5,125.1 L308.5,125.1 L306.5,125.1 L304.5,125.1 L302.5,125.1 L300.5,125.1 L298.6,125.1 L296.6,125.1 L294.6,125.1 L292.6,125.1 L290.6,125.1 L288.6,125.1 L286.6,125.1 L284.6,125.1 L282.6,125.1 L280.6,125.1 L278.6,125.0 L276.6,125.0 L274.6,125.0 L272.6,124.9 L270.6,124.8 L268.6,124.7 L266.6,124.6 L264.6,124.5 L262.6,124.4 L260.6,124.3 L258.6,124.2 L256.6,124.0 L254.6,123.9 L252.6,123.7 L250.6,123.6 L248.6,123.4 L246.6,123.2 L244.6,123.0 L242.7,122.8 L240.7,122.5 L238.7,122.3 L236.7,122.0 L234.7,121.8 L232.7,121.5 L230.7,121.2 L228.7,120.9 L226.7,120.6 L224.7,120.2 L222.7,119.9 L220.7,119.5 L218.7,119.1 L216.7,118.7 L214.7,118.3 L212.7,117.9 L210.7,117.4 L208.7,116.9 L206.7,116.5 L204.7,116.0 L202.7,115.5 L200.7,114.9 L198.7,114.4 L196.7,113.8 L194.7,113.2 L192.7,112.6 L190.7,112.0 L188.8,111.3 L186.8,110.6 L184.8,110.0 L182.8,109.2 L180.8,108.5 L178.8,107.8 L176.8,107.0 L174.8,106.2 L172.8,105.4 L170.8,104.5 L168.8,103.7 L166.8,102.8 L164.8,101.9 L162.8,101.0 L160.8,100.1 L158.8,99.2 L156.8,98.2 L154.8,97.2 L152.8,96.3 L150.8,95.3 L148.8,94.3 L146.8,93.3 L144.8,92.2 L142.8,91.2 L140.8,90.2 L138.8,89.1 L136.8,88.1 L134.8,87.0 L132.9,85.9 L130.9,84.9 L128.9,83.8 L126.9,82.7 L124.9,81.6 L122.9,80.5 L120.9,79.4 L118.9,78.3 L116.9,77.2 L114.9,76.1 L112.9,75.0 L110.9,73.9 L108.9,72.8 L106.9,71.7 L104.9,70.5 L102.9,69.4 L100.9,68.3 L98.9,67.1 L96.9,66.0 L94.9,64.8 L92.9,63.6 L90.9,62.5 L88.9,61.3 L86.9,60.1 L84.9,58.9 L82.9,57.7 L80.9,56.5 L78.9,55.3 L77.0,54.1 L75.0,52.8 L73.0,51.6 L71.0,50.4 L69.0,49.1 L67.0,47.9 L65.0,46.6 L63.0,45.4 L61.0,44.1 L59.0,42.8 L57.0,41.5 L55.0,40.2 L53.0,38.9" fill="none" stroke="#333" stroke-width="0.8" stroke-dasharray="10.3 10.37" stroke-dashoffset="0.1"/>
<path d="M382.4,85.8 L380.4,85.8 L378.4,85.8 L376.4,85.8 L374.4,85.8 L372.4,85.8 L370.4,85.8 L368.4,85.8 L366.4,85.8 L364.4,85.8 L362.4,85.8 L360.4,85.8 L358.4,85.8 L356.4,85.8 L354.5,85.8 L352.5,85.8 L350.5,85.8 L348.5,85.8 L346.5,85.8 L344.5,85.8 L342.5,85.8 L340.5,85.8 L338.5,85.8 L336.5,85.8 L334.5,85.8 L332.5,85.8 L330.5,85.8 L328.5,85.8 L326.5,85.8 L324.5,85.8 L322.5,85.8 L320.5,85.8 L318.5,85.8 L316.5,85.8 L314.5,85.8 L312.5,85.8 L310.5,85.8 L308.5,85.8 L306.5,85.8 L304.5,85.8 L302.5,85.8 L300.5,85.8 L298.6,85.8 L296.6,85.8 L294.6,85.8 L292.6,85.8 L290.6,85.8 L288.6,85.8 L286.6,85.8 L284.6,85.8 L282.6,85.8 L280.6,85.8 L278.6,85.8 L276.6,85.8 L274.6,85.7 L272.6,85.7 L270.6,85.6 L268.6,85.5 L266.6,85.4 L264.6,85.3 L262.6,85.2 L260.6,85.1 L258.6,84.9 L256.6,84.8 L254.6,84.6 L252.6,84.5 L250.6,84.3 L248.6,84.1 L246.6,83.9 L244.6,83.7 L242.7,83.5 L240.7,83.3 L238.7,83.0 L236.7,82.8 L234.7,82.5 L232.7,82.2 L230.7,81.9 L228.7,81.6 L226.7,81.3 L224.7,81.0 L222.7,80.6 L220.7,80.2 L218.7,79.9 L216.7,79.5 L214.7,79.0 L212.7,78.6 L210.7,78.2 L208.7,77.7 L206.7,77.2 L204.7,76.7 L202.7,76.2 L200.7,75.7 L198.7,75.1 L196.7,74.5 L194.7,74.0 L192.7,73.3 L190.7,72.7 L188.8,72.1 L186.8,71.4 L184.8,70.7 L182.8,70.0 L180.8,69.3 L178.8,68.5 L176.8,67.7 L174.8,66.9 L172.8,66.1 L170.8,65.3 L168.8,64.4 L166.8,63.6 L164.8,62.7 L162.8,61.8 L160.8,60.8 L158.8,59.9 L156.8,59.0 L154.8,58.0 L152.8,57.0 L150.8,56.0 L148.8,55.0 L146.8,54.0 L144.8,53.0 L142.8,52.0 L140.8,50.9 L138.8,49.9 L136.8,48.8 L134.8,47.8 L132.9,46.7 L130.9,45.6 L128.9,44.5 L126.9,43.5 L124.9,42.4 L122.9,41.3 L120.9,40.2 L118.9,39.1 L116.9,38.0 L114.9,36.9 L112.9,35.8 L110.9,34.7 L108.9,33.5 L106.9,32.4 L104.9,31.3 L102.9,30.1 L100.9,29.0 L98.9,27.9 L96.9,26.7 L94.9,25.5 L92.9,24.4 L90.9,23.2 L88.9,22.0 L86.9,20.8 L84.9,19.7 L82.9,18.5 L80.9,17.2 L78.9,16.0 L77.0,14.8 L75.0,13.6 L73.0,12.4 L71.0,11.1 L69.0,9.9 L67.0,8.6 L65.0,7.4 L63.0,6.1 L61.0,4.8 L59.0,3.5 L57.0,2.3 L55.0,1.0 L53.0,-0.3" fill="none" stroke="#333" stroke-width="0.8" stroke-dasharray="10.3 10.37" stroke-dashoffset="0.1"/>
<path d="M382.4,46.6 L380.4,46.6 L378.4,46.6 L376.4,46.6 L374.4,46.6 L372.4,46.6 L370.4,46.6 L368.4,46.6 L366.4,46.6 L364.4,46.6 L362.4,46.6 L360.4,46.6 L358.4,46.6 L356.4,46.6 L354.5,46.6 L352.5,46.6 L350.5,46.6 L348.5,46.6 L346.5,46.6 L344.5,46.6 L342.5,46.6 L340.5,46.6 L338.5,46.6 L336.5,46.6 L334.5,46.6 L332.5,46.6 L330.5,46.6 L328.5,46.6 L326.5,46.6 L324.5,46.6 L322.5,46.6 L320.5,46.6 L318.5,46.6 L316.5,46.6 L314.5,46.6 L312.5,46.6 L310.5,46.6 L308.5,46.6 L306.5,46.6 L304.5,46.6 L302.5,46.6 L300.5,46.6 L298.6,46.6 L296.6,46.6 L294.6,46.6 L292.6,46.6 L290.6,46.6 L288.6,46.6 L286.6,46.6 L284.6,46.6 L282.6,46.6 L280.6,46.6 L278.6,46.5 L276.6,46.5 L274.6,46.5 L272.6,46.4 L270.6,46.3 L268.6,46.2 L266.6,46.1 L264.6,46.0 L262.6,45.9 L260.6,45.8 L258.6,45.7 L256.6,45.5 L254.6,45.4 L252.6,45.2 L250.6,45.1 L248.6,44.9 L246.6,44.7 L244.6,44.5 L242.7,44.3 L240.7,44.0 L238.7,43.8 L236.7,43.5 L234.7,43.3 L232.7,43.0 L230.7,42.7 L228.7,42.4 L226.7,42.1 L224.7,41.7 L222.7,41.4 L220.7,41.0 L218.7,40.6 L216.7,40.2 L214.7,39.8 L212.7,39.4 L210.7,38.9 L208.7,38.4 L206.7,38.0 L204.7,37.5 L202.7,37.0 L200.7,36.4 L198.7,35.9 L196.7,35.3 L194.7,34.7 L192.7,34.1 L190.7,33.5 L188.8,32.8 L186.8,32.1 L184.8,31.5 L182.8,30.7 L180.8,30.0 L178.8,29.3 L176.8,28.5 L174.8,27.7 L172.8,26.9 L170.8,26.0 L168.8,25.2 L166.8,24.3 L164.8,23.4 L162.8,22.5 L160.8,21.6 L158.8,20.7 L156.8,19.7 L154.8,18.7 L152.8,17.8 L150.8,16.8 L148.8,15.8 L146.8,14.8 L144.8,13.7 L142.8,12.7 L140.8,11.7 L138.8,10.6 L136.8,9.6 L134.8,8.5 L132.9,7.4 L130.9,6.4 L128.9,5.3 L126.9,4.2 L124.9,3.1 L122.9,2.0 L120.9,0.9 L118.9,-0.2 L116.9,-1.3 L114.9,-2.4 L112.9,-3.5 L110.9,-4.6 L108.9,-5.7 L106.9,-6.8 L104.9,-8.0 L102.9,-9.1 L100.9,-10.2 L98.9,-11.4 L96.9,-12.5 L94.9,-13.7 L92.9,-14.9 L90.9,-16.0 L88.9,-17.2 L86.9,-18.4 L84.9,-19.6 L82.9,-20.8 L80.9,-22.0 L78.9,-23.2 L77.0,-24.4 L75.0,-25.7 L73.0,-26.9 L71.0,-28.1 L69.0,-29.4 L67.0,-30.6 L65.0,-31.9 L63.0,-33.1 L61.0,-34.4 L59.0,-35.7 L57.0,-37.0 L55.0,-38.3 L53.0,-39.6" fill="none" stroke="#333" stroke-width="0.8" stroke-dasharray="10.3 10.37" stroke-dashoffset="0.1"/>
<path d="M76.6,40.0 L76.6,43.6 L76.6,47.2 L76.6,50.8 L76.6,54.4 L76.6,58.0 L76.6,61.6 L76.6,65.2 L76.6,68.7 L76.6,72.3 L76.6,75.9 L76.6,79.5 L76.6,83.1 L76.6,86.7 L76.6,90.3 L76.6,93.9 L76.6,97.5 L76.6,101.1 L76.6,104.7 L76.6,108.3 L76.6,111.9 L76.6,115.5 L76.6,119.1 L76.6,122.6 L76.6,126.2 L76.6,129.8 L76.6,133.4 L76.6,137.0 L76.6,140.6 L76.6,144.2 L76.6,147.8 L76.6,151.4 L76.6,155.0 L76.6,158.6 L76.6,162.2 L76.6,165.8 L76.6,169.4 L76.6,172.9 L76.6,176.5 L76.6,180.1 L76.6,183.7 L76.6,187.3 L76.6,190.9 L76.6,194.5 L76.6,198.1 L76.6,201.7 L76.6,205.3 L76.6,208.9 L76.6,212.5 L76.6,216.1 L76.6,219.7 L76.6,223.3 L76.6,226.8 L76.6,230.4 L76.6,234.0 L76.6,237.6 L76.6,241.2 L76.6,244.8 L76.6,248.4 L76.6,252.0" fill="none" stroke="#3535ff" stroke-width="1.15"/>
<path d="M121.9,40.0 L121.9,44.0 L121.9,48.1 L121.9,52.1 L121.9,56.1 L121.9,60.2 L121.9,64.2 L121.9,68.2 L121.9,72.3 L121.9,76.3 L121.9,80.3 L121.9,84.4 L121.9,88.4 L121.9,92.4 L121.9,96.5 L121.9,100.5 L121.9,104.5 L121.9,108.6 L121.9,112.6 L121.9,116.6 L121.9,120.7 L121.9,124.7 L121.9,128.7 L121.9,132.8 L121.9,136.8 L121.9,140.8 L121.9,144.9 L121.9,148.9 L121.9,152.9 L121.9,157.0 L121.9,161.0 L121.9,165.1 L121.9,169.1 L121.9,173.1 L121.9,177.2 L121.9,181.2 L121.9,185.2 L121.9,189.3 L121.9,193.3 L121.9,197.3 L121.9,201.4 L121.9,205.4 L121.9,209.4 L121.9,213.5 L121.9,217.5 L121.9,221.5 L121.9,225.6 L121.9,229.6 L121.9,233.6 L121.9,237.7 L121.9,241.7 L121.9,245.7 L121.9,249.8 L121.9,253.8 L121.9,257.8 L121.9,261.9 L121.9,265.9 L121.9,269.9 L121.9,274.0 L121.9,278.0" fill="none" stroke="#3535ff" stroke-width="1.15"/>
<path d="M155.9,40.0 L155.7,44.3 L155.5,48.6 L155.4,53.0 L155.2,57.3 L155.1,61.6 L155.0,65.9 L154.9,70.3 L154.8,74.6 L154.7,78.9 L154.6,83.2 L154.6,87.5 L154.5,91.9 L154.4,96.2 L154.4,100.5 L154.3,104.8 L154.3,109.2 L154.2,113.5 L154.2,117.8 L154.1,122.1 L154.0,126.4 L154.0,130.8 L153.9,135.1 L153.9,139.4 L153.8,143.7 L153.8,148.1 L153.7,152.4 L153.7,156.7 L153.6,161.0 L153.6,165.3 L153.5,169.7 L153.5,174.0 L153.4,178.3 L153.4,182.6 L153.4,186.9 L153.3,191.3 L153.3,195.6 L153.2,199.9 L153.2,204.2 L153.1,208.6 L153.1,212.9 L153.1,217.2 L153.0,221.5 L153.0,225.8 L152.9,230.2 L152.9,234.5 L152.9,238.8 L152.8,243.1 L152.8,247.5 L152.8,251.8 L152.7,256.1 L152.7,260.4 L152.7,264.7 L152.7,269.1 L152.6,273.4 L152.6,277.7 L152.6,282.0 L152.5,286.4 L152.5,290.7 L152.5,295.0" fill="none" stroke="#3535ff" stroke-width="1.15"/>
<path d="M182.2,35.0 L182.1,39.6 L182.1,44.2 L182.0,48.7 L181.9,53.3 L181.8,57.9 L181.7,62.5 L181.7,67.0 L181.6,71.6 L181.5,76.2 L181.4,80.8 L181.3,85.3 L181.2,89.9 L181.1,94.5 L180.9,99.1 L180.8,103.6 L180.7,108.2 L180.6,112.8 L180.5,117.4 L180.4,121.9 L180.3,126.5 L180.2,131.1 L180.2,135.7 L180.1,140.3 L180.0,144.8 L180.0,149.4 L179.9,154.0 L179.8,158.6 L179.8,163.1 L179.7,167.7 L179.7,172.3 L179.6,176.9 L179.6,181.4 L179.5,186.0 L179.5,190.6 L179.4,195.2 L179.4,199.7 L179.3,204.3 L179.3,208.9 L179.2,213.5 L179.2,218.1 L179.1,222.6 L179.1,227.2 L179.1,231.8 L179.0,236.4 L179.0,240.9 L178.9,245.5 L178.9,250.1 L178.8,254.7 L178.8,259.2 L178.8,263.8 L178.7,268.4 L178.7,273.0 L178.6,277.5 L178.6,282.1 L178.6,286.7 L178.5,291.3 L178.5,295.8 L178.4,300.4 L178.4,305.0" fill="none" stroke="#3535ff" stroke-width="1.15"/>
<path d="M209.6,40.0 L209.4,44.6 L209.3,49.3 L209.1,53.9 L209.0,58.5 L208.8,63.1 L208.7,67.8 L208.5,72.4 L208.4,77.0 L208.2,81.6 L208.0,86.3 L207.9,90.9 L207.7,95.5 L207.6,100.2 L207.4,104.8 L207.2,109.4 L207.1,114.0 L206.9,118.7 L206.8,123.3 L206.7,127.9 L206.6,132.5 L206.4,137.2 L206.3,141.8 L206.2,146.4 L206.2,151.1 L206.1,155.7 L206.0,160.3 L205.9,164.9 L205.8,169.6 L205.8,174.2 L205.7,178.8 L205.6,183.4 L205.6,188.1 L205.5,192.7 L205.4,197.3 L205.4,201.9 L205.3,206.6 L205.3,211.2 L205.2,215.8 L205.1,220.5 L205.1,225.1 L205.0,229.7 L204.9,234.3 L204.9,239.0 L204.8,243.6 L204.7,248.2 L204.6,252.8 L204.5,257.5 L204.4,262.1 L204.4,266.7 L204.3,271.4 L204.2,276.0 L204.1,280.6 L204.0,285.2 L203.9,289.9 L203.8,294.5 L203.7,299.1 L203.6,303.7 L203.5,308.4 L203.4,313.0" fill="none" stroke="#3535ff" stroke-width="1.15"/>
<path d="M249.5,34.5 L246.8,39.3 L244.8,44.1 L243.5,48.9 L242.6,53.7 L241.9,58.5 L241.4,63.3 L241.0,68.1 L240.7,72.9 L240.5,77.7 L240.3,82.6 L240.1,87.4 L239.9,92.2 L239.7,97.0 L239.5,101.8 L239.3,106.6 L239.1,111.4 L238.9,116.2 L238.7,121.0 L238.5,125.8 L238.4,130.6 L238.2,135.4 L238.0,140.2 L237.8,145.0 L237.6,149.8 L237.4,154.6 L237.2,159.4 L236.9,164.2 L236.7,169.0 L236.5,173.8 L236.2,178.7 L236.0,183.5 L235.8,188.3 L235.5,193.1 L235.3,197.9 L235.1,202.7 L234.8,207.5 L234.6,212.3 L234.4,217.1 L234.2,221.9 L233.9,226.7 L233.7,231.5 L233.5,236.3 L233.4,241.1 L233.2,245.9 L233.0,250.7 L232.8,255.5 L232.6,260.3 L232.5,265.1 L232.3,269.9 L232.1,274.8 L232.0,279.6 L231.8,284.4 L231.7,289.2 L231.5,294.0 L231.4,298.8 L231.2,303.6 L231.1,308.4 L230.9,313.2 L230.8,318.0" fill="none" stroke="#3535ff" stroke-width="1.15"/>
<path d="M280.9,321.0 L281.0,320.0 L281.2,318.5 L281.5,316.8 L282.0,314.8 L282.5,312.4 L283.1,309.9 L283.8,307.2 L284.5,304.3 L285.3,301.2 L286.1,298.1 L287.2,294.1 L288.6,289.1 L290.3,283.3 L292.2,277.0 L294.3,270.6 L296.3,264.4 L298.2,258.6 L300.0,253.7 L301.5,249.8 L302.7,247.3 L303.6,245.4 L304.5,243.7 L305.3,242.3 L306.1,240.9 L306.8,239.8 L307.5,238.7 L308.1,237.6 L308.8,236.6 L309.5,235.6 L310.3,234.6 L311.0,233.6 L311.7,232.7 L312.4,231.8 L313.1,230.9 L313.8,230.1 L314.6,229.3 L315.3,228.5 L316.2,227.7 L317.0,227.0 L318.0,226.2 L319.0,225.5 L320.1,224.7 L321.2,223.9 L322.4,223.2 L323.7,222.5 L325.1,221.8 L326.5,221.2 L327.9,220.7 L329.4,220.2 L331.0,219.7 L332.8,219.3 L334.7,218.9 L336.7,218.6 L338.8,218.2 L340.9,217.9 L343.1,217.6 L345.3,217.3 L347.4,217.2 L349.5,217.0 L351.5,216.9 L353.7,216.9 L355.8,216.8 L358.0,216.7 L360.1,216.7 L362.2,216.6 L364.3,216.6 L366.3,216.5 L368.1,216.5 L369.8,216.5 L371.4,216.5 L372.9,216.5 L374.4,216.5 L375.8,216.5 L377.2,216.5 L378.5,216.5 L379.7,216.5 L380.9,216.5 L382.0,216.5 L383.0,216.5" fill="none" stroke="#3535ff" stroke-width="1.15"/>
<path d="M51.0,50.0 L54.4,50.2 L57.7,50.3 L61.1,50.5 L64.4,50.6 L67.8,50.7 L71.1,50.7 L74.5,50.8 L77.8,50.9 L81.2,50.9 L84.5,50.9 L87.9,51.0 L91.2,51.0 L94.6,51.0 L97.9,51.0 L101.3,51.0 L104.6,51.0 L108.0,51.0 L111.3,50.9 L114.7,50.6 L118.1,50.3 L121.4,50.0 L124.8,49.6 L128.1,49.2 L131.5,48.7 L134.8,48.3 L138.2,47.8 L141.5,47.4 L144.9,47.0 L148.2,46.5 L151.6,46.0 L154.9,45.4 L158.3,44.9 L161.6,44.3 L165.0,43.7 L168.3,43.1 L171.7,42.5 L175.0,41.8 L178.4,41.2 L181.7,40.5 L185.1,39.8 L188.5,39.2 L191.8,38.6 L195.2,38.1 L198.5,37.5 L201.9,37.0 L205.2,36.5 L208.6,35.9 L211.9,35.4 L215.3,34.8 L218.6,34.1 L222.0,33.4 L225.3,32.6 L228.7,31.7 L232.0,30.7 L235.4,29.4 L238.7,28.0 L242.1,26.5 L245.4,24.7 L248.8,22.7 L51.0,22.7Z" fill="#9a9a9a"/>
<path d="M51.0,50.0 L55.5,50.2 L60.0,50.4 L64.5,50.6 L68.9,50.7 L73.4,50.8 L77.9,50.9 L82.4,50.9 L86.9,51.0 L91.4,51.0 L95.9,51.0 L100.4,51.0 L104.8,51.0 L109.3,50.9 L113.8,50.7 L118.3,50.3 L122.8,49.8 L127.3,49.3 L131.8,48.7 L136.3,48.1 L140.7,47.5 L145.2,46.9 L149.7,46.3 L154.2,45.6 L158.7,44.8 L163.2,44.1 L167.7,43.2 L172.2,42.4 L176.6,41.5 L181.1,40.6 L185.6,39.7 L190.1,38.9 L194.6,38.2 L199.1,37.4 L203.6,36.7 L208.1,36.0 L212.5,35.3 L217.0,34.4 L221.5,33.5 L226.0,32.5" fill="none" stroke="#111" stroke-width="1"/>
</g>
<line x1="264.5" y1="90" x2="264.5" y2="119.4" stroke="#8b0a0a" stroke-width="1.6" stroke-dasharray="2.1 1.5"/>
<path d="M264.5,128.4 L261.0,116.0 Q264.5,118.10000000000001 268.0,116.0 Z" fill="#8b0a0a"/>
<line x1="264.5" y1="139" x2="264.5" y2="168.4" stroke="#8b0a0a" stroke-width="1.6" stroke-dasharray="2.1 1.5"/>
<path d="M264.5,177.4 L261.0,165.0 Q264.5,167.1 268.0,165.0 Z" fill="#8b0a0a"/>
<line x1="264.5" y1="188" x2="264.5" y2="217.4" stroke="#8b0a0a" stroke-width="1.6" stroke-dasharray="2.1 1.5"/>
<path d="M264.5,226.4 L261.0,214.0 Q264.5,216.1 268.0,214.0 Z" fill="#8b0a0a"/>
<rect x="51.7" y="50.2" width="53.4" height="15.4" fill="#fff" stroke="#8a8a8a" stroke-width="1.3"/>
<text y="61.8" font-size="6.8" fill="#555"><tspan x="55.6" font-style="italic" font-size="7.6">m</tspan><tspan x="62.3" y="62.9" font-size="5">3/2</tspan><tspan x="71.5" y="61.5" font-size="6">=</tspan><tspan x="76.3" y="61.8">10</tspan><tspan x="83.9" y="58.9" font-size="5.4">9</tspan><tspan x="89.0" y="61.8" font-size="6.8">GeV</tspan></text>
<rect x="51.5" y="88.7" width="53" height="15.7" fill="#fff" stroke="#8a8a8a" stroke-width="1.3"/>
<text y="100.3" font-size="6.8" fill="#555"><tspan x="55.4" font-style="italic" font-size="7.6">m</tspan><tspan x="62.1" y="101.4" font-size="5">3/2</tspan><tspan x="71.3" y="100.0" font-size="6">=</tspan><tspan x="76.1" y="100.3">10</tspan><tspan x="83.7" y="97.4" font-size="5.4">8</tspan><tspan x="88.8" y="100.3" font-size="6.8">GeV</tspan></text>
<rect x="51.5" y="127.9" width="53" height="15.6" fill="#fff" stroke="#8a8a8a" stroke-width="1.3"/>
<text y="139.5" font-size="6.8" fill="#555"><tspan x="55.4" font-style="italic" font-size="7.6">m</tspan><tspan x="62.1" y="140.6" font-size="5">3/2</tspan><tspan x="71.3" y="139.2" font-size="6">=</tspan><tspan x="76.1" y="139.5">10</tspan><tspan x="83.7" y="136.6" font-size="5.4">7</tspan><tspan x="88.8" y="139.5" font-size="6.8">GeV</tspan></text>
<rect x="51.5" y="167.1" width="53" height="15.5" fill="#fff" stroke="#8a8a8a" stroke-width="1.3"/>
<text y="178.7" font-size="6.8" fill="#555"><tspan x="55.4" font-style="italic" font-size="7.6">m</tspan><tspan x="62.1" y="179.8" font-size="5">3/2</tspan><tspan x="71.3" y="178.4" font-size="6">=</tspan><tspan x="76.1" y="178.7">10</tspan><tspan x="83.7" y="175.8" font-size="5.4">6</tspan><tspan x="88.8" y="178.7" font-size="6.8">GeV</tspan></text>
<rect x="51.5" y="206.3" width="53" height="15.3" fill="#fff" stroke="#8a8a8a" stroke-width="1.3"/>
<text y="217.9" font-size="6.8" fill="#555"><tspan x="55.4" font-style="italic" font-size="7.6">m</tspan><tspan x="62.1" y="219.0" font-size="5">3/2</tspan><tspan x="71.3" y="217.6" font-size="6">=</tspan><tspan x="76.1" y="217.9">10</tspan><tspan x="83.7" y="215.0" font-size="5.4">5</tspan><tspan x="88.8" y="217.9" font-size="6.8">GeV</tspan></text>
<rect x="119.3" y="50" width="56.0" height="14.9" fill="#fff" stroke="#8a8a8a" stroke-width="1.3"/>
<text y="61.6" font-size="6.8" fill="#555"><tspan x="123.2" font-style="italic" font-size="7.6">m</tspan><tspan x="129.9" y="62.7" font-size="5">3/2</tspan><tspan x="139.1" y="61.3" font-size="6">=</tspan><tspan x="143.9" y="61.6">10</tspan><tspan x="151.5" y="58.7" font-size="5.4">10</tspan><tspan x="159.9" y="61.6" font-size="6.3">GeV</tspan></text>
<rect x="188.3" y="32.4" width="56" height="14.9" fill="#fff" stroke="#8a8a8a" stroke-width="1.3"/>
<text y="44.0" font-size="6.8" fill="#555"><tspan x="192.2" font-style="italic" font-size="7.6">m</tspan><tspan x="198.9" y="45.1" font-size="5">3/2</tspan><tspan x="208.1" y="43.7" font-size="6">=</tspan><tspan x="212.9" y="44.0">10</tspan><tspan x="220.5" y="41.1" font-size="5.4">10</tspan><tspan x="228.9" y="44.0" font-size="6.3">GeV</tspan></text>
<rect x="69.5" y="248.2" width="15.099999999999994" height="60.1" fill="#fff" stroke="#3535ff" stroke-width="1"/>
<g transform="translate(73.1,251.5) rotate(90)"><text font-size="7" fill="#3535ff" stroke="#3535ff" stroke-width="0.22"><tspan x="0.6" font-size="7.4">√</tspan><tspan x="5.0" font-size="6.8">ξ</tspan><tspan x="11.0" y="-0.3" font-size="5.6">=</tspan><tspan x="16.3" y="0" font-size="6.8">1</tspan><tspan x="20.0" font-size="6.2">×</tspan><tspan x="24.9" font-size="6.8">10</tspan><tspan x="33.0" y="-3.0" font-size="6.2">15</tspan><tspan x="41.0" y="0" font-size="6.8">GeV</tspan></text><path d="M4.5,-5.55h4.0" stroke="#3535ff" stroke-width="0.55" fill="none"/></g>
<rect x="114.2" y="248.2" width="15.399999999999991" height="60.1" fill="#fff" stroke="#3535ff" stroke-width="1"/>
<g transform="translate(117.8,251.5) rotate(90)"><text font-size="7" fill="#3535ff" stroke="#3535ff" stroke-width="0.22"><tspan x="0.6" font-size="7.4">√</tspan><tspan x="5.0" font-size="6.8">ξ</tspan><tspan x="11.0" y="-0.3" font-size="5.6">=</tspan><tspan x="16.3" y="0" font-size="6.8">2</tspan><tspan x="20.0" font-size="6.2">×</tspan><tspan x="24.9" font-size="6.8">10</tspan><tspan x="33.0" y="-3.0" font-size="6.2">15</tspan><tspan x="41.0" y="0" font-size="6.8">GeV</tspan></text><path d="M4.5,-5.55h4.0" stroke="#3535ff" stroke-width="0.55" fill="none"/></g>
<rect x="145.0" y="248.2" width="15.599999999999994" height="60.1" fill="#fff" stroke="#3535ff" stroke-width="1"/>
<g transform="translate(148.6,251.5) rotate(90)"><text font-size="7" fill="#3535ff" stroke="#3535ff" stroke-width="0.22"><tspan x="0.6" font-size="7.4">√</tspan><tspan x="5.0" font-size="6.8">ξ</tspan><tspan x="11.0" y="-0.3" font-size="5.6">=</tspan><tspan x="16.3" y="0" font-size="6.8">3</tspan><tspan x="20.0" font-size="6.2">×</tspan><tspan x="24.9" font-size="6.8">10</tspan><tspan x="33.0" y="-3.0" font-size="6.2">15</tspan><tspan x="41.0" y="0" font-size="6.8">GeV</tspan></text><path d="M4.5,-5.55h4.0" stroke="#3535ff" stroke-width="0.55" fill="none"/></g>
<rect x="170.3" y="248.2" width="15.699999999999989" height="60.1" fill="#fff" stroke="#3535ff" stroke-width="1"/>
<g transform="translate(173.9,251.5) rotate(90)"><text font-size="7" fill="#3535ff" stroke="#3535ff" stroke-width="0.22"><tspan x="0.6" font-size="7.4">√</tspan><tspan x="5.0" font-size="6.8">ξ</tspan><tspan x="11.0" y="-0.3" font-size="5.6">=</tspan><tspan x="16.3" y="0" font-size="6.8">4</tspan><tspan x="20.0" font-size="6.2">×</tspan><tspan x="24.9" font-size="6.8">10</tspan><tspan x="33.0" y="-3.0" font-size="6.2">15</tspan><tspan x="41.0" y="0" font-size="6.8">GeV</tspan></text><path d="M4.5,-5.55h4.0" stroke="#3535ff" stroke-width="0.55" fill="none"/></g>
<rect x="196.9" y="248.2" width="15.699999999999989" height="60.1" fill="#fff" stroke="#3535ff" stroke-width="1"/>
<g transform="translate(200.5,251.5) rotate(90)"><text font-size="7" fill="#3535ff" stroke="#3535ff" stroke-width="0.22"><tspan x="0.6" font-size="7.4">√</tspan><tspan x="5.0" font-size="6.8">ξ</tspan><tspan x="11.0" y="-0.3" font-size="5.6">=</tspan><tspan x="16.3" y="0" font-size="6.8">5</tspan><tspan x="20.0" font-size="6.2">×</tspan><tspan x="24.9" font-size="6.8">10</tspan><tspan x="33.0" y="-3.0" font-size="6.2">15</tspan><tspan x="41.0" y="0" font-size="6.8">GeV</tspan></text><path d="M4.5,-5.55h4.0" stroke="#3535ff" stroke-width="0.55" fill="none"/></g>
<rect x="225.8" y="248.2" width="15.599999999999994" height="60.1" fill="#fff" stroke="#3535ff" stroke-width="1"/>
<g transform="translate(229.4,251.5) rotate(90)"><text font-size="7" fill="#3535ff" stroke="#3535ff" stroke-width="0.22"><tspan x="0.6" font-size="7.4">√</tspan><tspan x="5.0" font-size="6.8">ξ</tspan><tspan x="11.0" y="-0.3" font-size="5.6">=</tspan><tspan x="16.3" y="0" font-size="6.8">6</tspan><tspan x="20.0" font-size="6.2">×</tspan><tspan x="24.9" font-size="6.8">10</tspan><tspan x="33.0" y="-3.0" font-size="6.2">15</tspan><tspan x="41.0" y="0" font-size="6.8">GeV</tspan></text><path d="M4.5,-5.55h4.0" stroke="#3535ff" stroke-width="0.55" fill="none"/></g>
<rect x="286.3" y="248.2" width="15.899999999999977" height="60.1" fill="#fff" stroke="#3535ff" stroke-width="1"/>
<g transform="translate(289.9,251.5) rotate(90)"><text font-size="7" fill="#3535ff" stroke="#3535ff" stroke-width="0.22"><tspan x="0.6" font-size="7.4">√</tspan><tspan x="5.0" font-size="6.8">ξ</tspan><tspan x="11.0" y="-0.3" font-size="5.6">=</tspan><tspan x="16.3" y="0" font-size="6.8">7</tspan><tspan x="20.0" font-size="6.2">×</tspan><tspan x="24.9" font-size="6.8">10</tspan><tspan x="33.0" y="-3.0" font-size="6.2">15</tspan><tspan x="41.0" y="0" font-size="6.8">GeV</tspan></text><path d="M4.5,-5.55h4.0" stroke="#3535ff" stroke-width="0.55" fill="none"/></g>
<text y="43.1" font-size="10" fill="#1a1a1a"><tspan x="78.6" font-style="italic">s</tspan><tspan x="83.6" y="44.8" font-size="7.2">crit</tspan><tspan x="104.7" y="43.1" font-style="italic">O</tspan><tspan x="112.4">(</tspan><tspan x="115.2" font-style="italic">M</tspan><tspan x="124.3" y="44.8" font-size="7.2">Pl</tspan><tspan x="130.9" y="43.1">)</tspan></text>
<path d="M96.7,37.6L101.2,39.5L96.7,41.4M96.6,43.9q1.2,-1.3 2.35,-0.3t2.35,-0.3" fill="none" stroke="#1a1a1a" stroke-width="0.85"/>
<rect x="274.4" y="21.7" width="111.7" height="19.9" fill="#fff" stroke="#555" stroke-width="1.1"/>
<text x="278.1" y="35.8" font-size="10.45" fill="#1a1a1a">D−term hybrid inflation</text>
<text x="316.4" y="62" font-size="10.4" fill="#ff1a1a" text-anchor="middle">Upper bounds from axion</text>
<text x="316.4" y="78.5" font-size="10.4" fill="#ff1a1a" text-anchor="middle">isocurvature perturbations</text>
<rect x="305.5" y="113.6" width="65.5" height="14.5" fill="#fd8181"/>
<text y="125.8" font-size="10.3" fill="#4a1c1c"><tspan x="308.2" font-style="italic">f</tspan><tspan x="311.0" y="127.2" font-size="6.2">a</tspan><tspan x="316.0" y="125.2" font-size="8.6">=</tspan><tspan x="324.6" y="125.8">10</tspan><tspan x="335.0" y="121.5" font-size="7.6">18</tspan><tspan x="347.8" y="125.8">GeV</tspan></text>
<rect x="305.5" y="162.6" width="65.5" height="14.5" fill="#fd8181"/>
<text y="174.8" font-size="10.3" fill="#4a1c1c"><tspan x="308.2" font-style="italic">f</tspan><tspan x="311.0" y="176.2" font-size="6.2">a</tspan><tspan x="316.0" y="174.2" font-size="8.6">=</tspan><tspan x="324.6" y="174.8">10</tspan><tspan x="335.0" y="170.5" font-size="7.6">15</tspan><tspan x="347.8" y="174.8">GeV</tspan></text>
<rect x="305.5" y="211.6" width="65.5" height="14.5" fill="#fd8181"/>
<text y="223.8" font-size="10.3" fill="#4a1c1c"><tspan x="308.2" font-style="italic">f</tspan><tspan x="311.0" y="225.2" font-size="6.2">a</tspan><tspan x="316.0" y="223.2" font-size="8.6">=</tspan><tspan x="324.6" y="223.8">10</tspan><tspan x="335.0" y="219.5" font-size="7.6">12</tspan><tspan x="347.8" y="223.8">GeV</tspan></text>
<text x="75" y="333.7" font-size="10.4" fill="#1a1a1a">Big bang nucleosynthesis</text>
<rect x="43.8" y="17.2" width="345.7" height="344.7" fill="none" stroke="#333" stroke-width="1.05"/>
<path d="M51.00,361.9v-3.1M51.00,17.2v3.1M84.31,361.9v-1.7M84.31,17.2v1.7M103.80,361.9v-1.7M103.80,17.2v1.7M117.63,361.9v-1.7M117.63,17.2v1.7M128.35,361.9v-1.7M128.35,17.2v1.7M137.12,361.9v-1.7M137.12,17.2v1.7M144.52,361.9v-1.7M144.52,17.2v1.7M150.94,361.9v-1.7M150.94,17.2v1.7M156.60,361.9v-1.7M156.60,17.2v1.7M161.67,361.9v-3.1M161.67,17.2v3.1M194.98,361.9v-1.7M194.98,17.2v1.7M214.47,361.9v-1.7M214.47,17.2v1.7M228.29,361.9v-1.7M228.29,17.2v1.7M239.02,361.9v-1.7M239.02,17.2v1.7M247.78,361.9v-1.7M247.78,17.2v1.7M255.19,361.9v-1.7M255.19,17.2v1.7M261.61,361.9v-1.7M261.61,17.2v1.7M267.27,361.9v-1.7M267.27,17.2v1.7M272.33,361.9v-3.1M272.33,17.2v3.1M305.65,361.9v-1.7M305.65,17.2v1.7M325.13,361.9v-1.7M325.13,17.2v1.7M338.96,361.9v-1.7M338.96,17.2v1.7M349.69,361.9v-1.7M349.69,17.2v1.7M358.45,361.9v-1.7M358.45,17.2v1.7M365.86,361.9v-1.7M365.86,17.2v1.7M372.28,361.9v-1.7M372.28,17.2v1.7M377.94,361.9v-1.7M377.94,17.2v1.7M383.00,361.9v-3.1M383.00,17.2v3.1M416.31,361.9v-1.7M416.31,17.2v1.7M435.80,361.9v-1.7M435.80,17.2v1.7M449.63,361.9v-1.7M449.63,17.2v1.7M460.35,361.9v-1.7M460.35,17.2v1.7M469.12,361.9v-1.7M469.12,17.2v1.7M476.52,361.9v-1.7M476.52,17.2v1.7M482.94,361.9v-1.7M482.94,17.2v1.7M488.60,361.9v-1.7M488.60,17.2v1.7M383.00,361.9v-3.1M383.00,17.2v3.1M43.8,355.40h1.7M389.5,355.40h-1.7M43.8,348.50h1.7M389.5,348.50h-1.7M43.8,343.60h1.7M389.5,343.60h-1.7M43.8,339.80h1.7M389.5,339.80h-1.7M43.8,336.70h1.7M389.5,336.70h-1.7M43.8,334.07h1.7M389.5,334.07h-1.7M43.8,331.80h1.7M389.5,331.80h-1.7M43.8,329.79h1.7M389.5,329.79h-1.7M43.8,328.00h3.1M389.5,328.00h-3.1M43.8,316.20h1.7M389.5,316.20h-1.7M43.8,309.30h1.7M389.5,309.30h-1.7M43.8,304.40h1.7M389.5,304.40h-1.7M43.8,300.60h1.7M389.5,300.60h-1.7M43.8,297.50h1.7M389.5,297.50h-1.7M43.8,294.87h1.7M389.5,294.87h-1.7M43.8,292.60h1.7M389.5,292.60h-1.7M43.8,290.59h1.7M389.5,290.59h-1.7M43.8,288.80h3.1M389.5,288.80h-3.1M43.8,277.00h1.7M389.5,277.00h-1.7M43.8,270.10h1.7M389.5,270.10h-1.7M43.8,265.20h1.7M389.5,265.20h-1.7M43.8,261.40h1.7M389.5,261.40h-1.7M43.8,258.30h1.7M389.5,258.30h-1.7M43.8,255.67h1.7M389.5,255.67h-1.7M43.8,253.40h1.7M389.5,253.40h-1.7M43.8,251.39h1.7M389.5,251.39h-1.7M43.8,249.60h3.1M389.5,249.60h-3.1M43.8,237.80h1.7M389.5,237.80h-1.7M43.8,230.90h1.7M389.5,230.90h-1.7M43.8,226.00h1.7M389.5,226.00h-1.7M43.8,222.20h1.7M389.5,222.20h-1.7M43.8,219.10h1.7M389.5,219.10h-1.7M43.8,216.47h1.7M389.5,216.47h-1.7M43.8,214.20h1.7M389.5,214.20h-1.7M43.8,212.19h1.7M389.5,212.19h-1.7M43.8,210.40h3.1M389.5,210.40h-3.1M43.8,198.60h1.7M389.5,198.60h-1.7M43.8,191.70h1.7M389.5,191.70h-1.7M43.8,186.80h1.7M389.5,186.80h-1.7M43.8,183.00h1.7M389.5,183.00h-1.7M43.8,179.90h1.7M389.5,179.90h-1.7M43.8,177.27h1.7M389.5,177.27h-1.7M43.8,175.00h1.7M389.5,175.00h-1.7M43.8,172.99h1.7M389.5,172.99h-1.7M43.8,171.20h3.1M389.5,171.20h-3.1M43.8,159.40h1.7M389.5,159.40h-1.7M43.8,152.50h1.7M389.5,152.50h-1.7M43.8,147.60h1.7M389.5,147.60h-1.7M43.8,143.80h1.7M389.5,143.80h-1.7M43.8,140.70h1.7M389.5,140.70h-1.7M43.8,138.07h1.7M389.5,138.07h-1.7M43.8,135.80h1.7M389.5,135.80h-1.7M43.8,133.79h1.7M389.5,133.79h-1.7M43.8,132.00h3.1M389.5,132.00h-3.1M43.8,120.20h1.7M389.5,120.20h-1.7M43.8,113.30h1.7M389.5,113.30h-1.7M43.8,108.40h1.7M389.5,108.40h-1.7M43.8,104.60h1.7M389.5,104.60h-1.7M43.8,101.50h1.7M389.5,101.50h-1.7M43.8,98.87h1.7M389.5,98.87h-1.7M43.8,96.60h1.7M389.5,96.60h-1.7M43.8,94.59h1.7M389.5,94.59h-1.7M43.8,92.80h3.1M389.5,92.80h-3.1M43.8,81.00h1.7M389.5,81.00h-1.7M43.8,74.10h1.7M389.5,74.10h-1.7M43.8,69.20h1.7M389.5,69.20h-1.7M43.8,65.40h1.7M389.5,65.40h-1.7M43.8,62.30h1.7M389.5,62.30h-1.7M43.8,59.67h1.7M389.5,59.67h-1.7M43.8,57.40h1.7M389.5,57.40h-1.7M43.8,55.39h1.7M389.5,55.39h-1.7M43.8,53.60h3.1M389.5,53.60h-3.1M43.8,41.80h1.7M389.5,41.80h-1.7M43.8,34.90h1.7M389.5,34.90h-1.7M43.8,30.00h1.7M389.5,30.00h-1.7M43.8,26.20h1.7M389.5,26.20h-1.7M43.8,23.10h1.7M389.5,23.10h-1.7M43.8,20.47h1.7M389.5,20.47h-1.7M43.8,18.20h1.7M389.5,18.20h-1.7" stroke="#333" stroke-width="0.85" fill="none"/>
<text x="39.4" y="376" font-size="11.2" fill="#111">10<tspan font-size="8.3" dy="-4.6" dx="0.6">−4</tspan></text>
<text x="150.1" y="376" font-size="11.2" fill="#111">10<tspan font-size="8.3" dy="-4.6" dx="0.6">−3</tspan></text>
<text x="260.7" y="376" font-size="11.2" fill="#111">10<tspan font-size="8.3" dy="-4.6" dx="0.6">−2</tspan></text>
<text x="371.4" y="376" font-size="11.2" fill="#111">10<tspan font-size="8.3" dy="-4.6" dx="0.6">−1</tspan></text>
<text x="18.8" y="332.4" font-size="11.2" fill="#111">10<tspan font-size="8.3" dy="-4.4" dx="0.6">−8</tspan></text>
<text x="18.8" y="293.2" font-size="11.2" fill="#111">10<tspan font-size="8.3" dy="-4.4" dx="0.6">−7</tspan></text>
<text x="18.8" y="254.0" font-size="11.2" fill="#111">10<tspan font-size="8.3" dy="-4.4" dx="0.6">−6</tspan></text>
<text x="18.8" y="214.8" font-size="11.2" fill="#111">10<tspan font-size="8.3" dy="-4.4" dx="0.6">−5</tspan></text>
<text x="18.8" y="175.6" font-size="11.2" fill="#111">10<tspan font-size="8.3" dy="-4.4" dx="0.6">−4</tspan></text>
<text x="18.8" y="136.4" font-size="11.2" fill="#111">10<tspan font-size="8.3" dy="-4.4" dx="0.6">−3</tspan></text>
<text x="18.8" y="97.2" font-size="11.2" fill="#111">10<tspan font-size="8.3" dy="-4.4" dx="0.6">−2</tspan></text>
<text x="18.8" y="58.0" font-size="11.2" fill="#111">10<tspan font-size="8.3" dy="-4.4" dx="0.6">−1</tspan></text>
<text y="394.5" font-size="11.85" fill="#111"><tspan x="122.4">Superpotential</tspan><tspan x="206">Yukawa</tspan><tspan x="253.75">coupling</tspan><tspan x="304.6" font-style="italic">κ</tspan></text>
<text transform="translate(12.3,264.5) rotate(-90)" font-size="11.8" fill="#111"><tspan x="0">Gauge</tspan><tspan x="41.75">coupling</tspan><tspan x="92.25">constant</tspan><tspan x="143.2" font-style="italic">g</tspan></text>
</svg></body></html>
